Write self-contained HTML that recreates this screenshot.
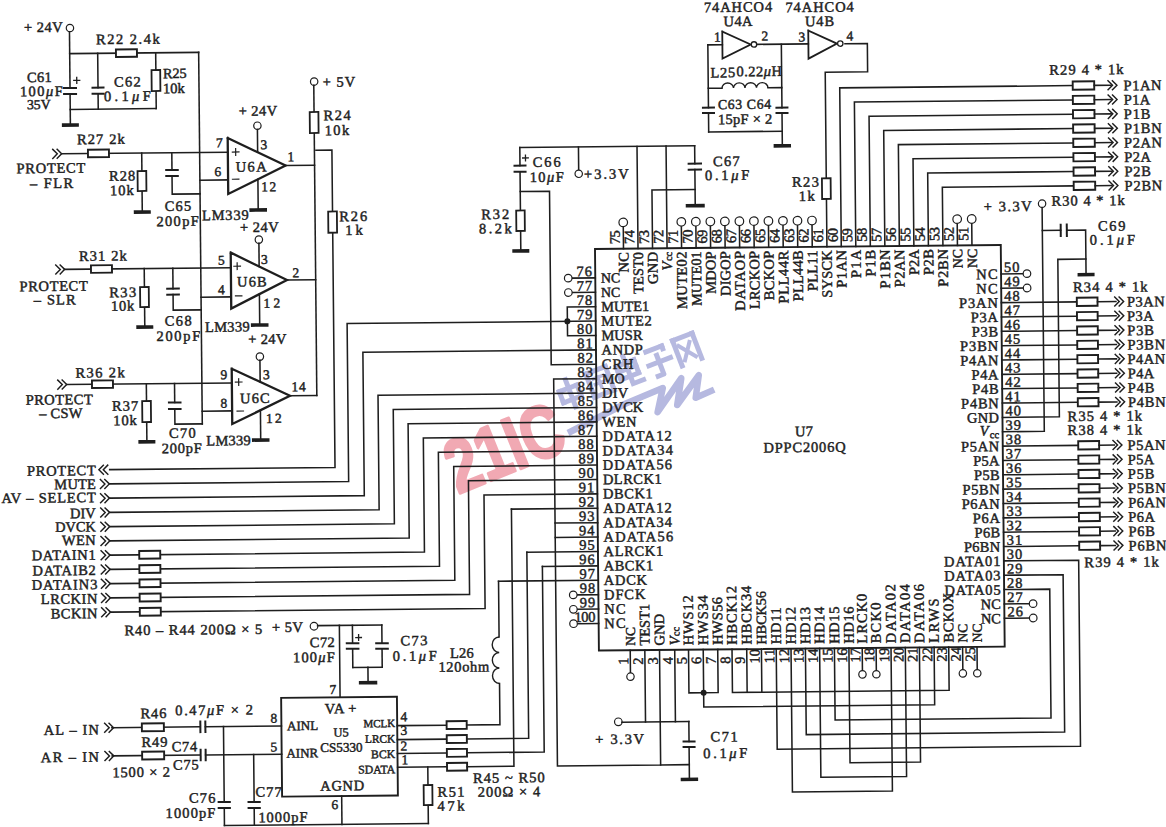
<!DOCTYPE html>
<html><head><meta charset="utf-8"><style>
html,body{margin:0;padding:0;background:#fff;}
svg{display:block;}
</style></head><body>
<svg width="1166" height="827" viewBox="0 0 1166 827">
<rect width="1166" height="827" fill="#fff"/>
<text transform="translate(458 494) rotate(-22)" font-family="Liberation Sans, sans-serif" font-weight="bold" font-size="75" fill="#f1a9b3" stroke="#f1a9b3" stroke-width="3" stroke-linejoin="round" textLength="121" lengthAdjust="spacingAndGlyphs">21IC</text>
<g transform="translate(553.5 383.7) rotate(-21)" fill="#b6b9e0"><rect x="0" y="7" width="5" height="17"/><rect x="0" y="7" width="24" height="5"/><rect x="19" y="7" width="5" height="17"/><rect x="0" y="19" width="24" height="5"/><rect x="10" y="-2" width="5" height="34"/><rect x="31" y="0" width="5" height="30"/><rect x="31" y="0" width="26" height="5"/><rect x="52" y="0" width="5" height="30"/><rect x="31" y="25" width="26" height="5"/><rect x="37" y="8" width="14" height="3.5"/><rect x="37" y="14" width="14" height="3.5"/><rect x="42" y="8" width="3.5" height="14"/><rect x="62" y="4" width="5" height="18"/><rect x="62" y="4" width="24" height="5"/><rect x="81" y="4" width="5" height="18"/><rect x="62" y="11" width="24" height="4"/><rect x="62" y="18" width="24" height="5"/><rect x="72" y="-3" width="5" height="30"/><rect x="72" y="26" width="16" height="5"/><rect x="95" y="1" width="22" height="5"/><rect x="112" y="1" width="5" height="8"/><rect x="104" y="8" width="5" height="24"/><rect x="93" y="15" width="28" height="5"/><rect x="98" y="28" width="10" height="5"/><rect x="124" y="0" width="5" height="32"/><rect x="124" y="0" width="26" height="5"/><rect x="145" y="0" width="5" height="32"/><path d="M129 8 L144 27 M143 8 L130 27" stroke="#b6b9e0" stroke-width="4" fill="none"/></g>
<path d="M568 433 L624.7 404 L662.8 388 L657.6 412.2 L681.3 378.2 L677.2 405 L698.8 375.1 L695.7 397.8 L714.2 389.6" fill="none" stroke="#b6b9e0" stroke-width="6.5" stroke-linejoin="round"/>
<g transform="rotate(-0.56 583 413.5)" fill="#1e1e1e" font-family="Liberation Serif, serif">
<rect x="596.6" y="249.1" width="405.8" height="401.6" fill="none" stroke="#1e1e1e" stroke-width="1.9"/>
<text x="602.2" y="282.8" font-size="13.89" textLength="19.3" lengthAdjust="spacing" stroke="#1e1e1e" stroke-width="0.45">NC</text>
<text x="593.4" y="276.2" font-size="14.5" textLength="15.5" lengthAdjust="spacing" text-anchor="end" stroke="#1e1e1e" stroke-width="0.45">76</text>
<text x="602.2" y="297.2" font-size="13.89" textLength="19.3" lengthAdjust="spacing" stroke="#1e1e1e" stroke-width="0.45">NC</text>
<text x="593.4" y="290.6" font-size="14.5" textLength="15.5" lengthAdjust="spacing" text-anchor="end" stroke="#1e1e1e" stroke-width="0.45">77</text>
<text x="602.2" y="311.6" font-size="14.4" textLength="48" lengthAdjust="spacing" stroke="#1e1e1e" stroke-width="0.45">MUTE1</text>
<text x="593.4" y="305" font-size="14.5" textLength="15.5" lengthAdjust="spacing" text-anchor="end" stroke="#1e1e1e" stroke-width="0.45">78</text>
<text x="602.2" y="326" font-size="14.5" textLength="50.3" lengthAdjust="spacing" stroke="#1e1e1e" stroke-width="0.45">MUTE2</text>
<text x="593.4" y="319.4" font-size="14.5" textLength="15.5" lengthAdjust="spacing" text-anchor="end" stroke="#1e1e1e" stroke-width="0.45">79</text>
<text x="602.2" y="340.4" font-size="14.5" textLength="41.1" lengthAdjust="spacing" stroke="#1e1e1e" stroke-width="0.45">MUSR</text>
<text x="593.4" y="333.8" font-size="14.5" textLength="15.5" lengthAdjust="spacing" text-anchor="end" stroke="#1e1e1e" stroke-width="0.45">80</text>
<text x="602.2" y="354.8" font-size="14.5" textLength="41.1" lengthAdjust="spacing" stroke="#1e1e1e" stroke-width="0.45">ANDP</text>
<text x="593.4" y="348.2" font-size="14.5" textLength="15.5" lengthAdjust="spacing" text-anchor="end" stroke="#1e1e1e" stroke-width="0.45">81</text>
<text x="602.2" y="369.2" font-size="14.5" textLength="31.8" lengthAdjust="spacing" stroke="#1e1e1e" stroke-width="0.45">CRH</text>
<text x="593.4" y="362.6" font-size="14.5" textLength="15.5" lengthAdjust="spacing" text-anchor="end" stroke="#1e1e1e" stroke-width="0.45">82</text>
<text x="602.2" y="383.6" font-size="14.15" textLength="22.8" lengthAdjust="spacing" stroke="#1e1e1e" stroke-width="0.45">MO</text>
<text x="593.4" y="377" font-size="14.5" textLength="15.5" lengthAdjust="spacing" text-anchor="end" stroke="#1e1e1e" stroke-width="0.45">83</text>
<text x="602.2" y="398" font-size="14.5" textLength="26.2" lengthAdjust="spacing" stroke="#1e1e1e" stroke-width="0.45">DIV</text>
<text x="593.4" y="391.4" font-size="14.5" textLength="15.5" lengthAdjust="spacing" text-anchor="end" stroke="#1e1e1e" stroke-width="0.45">84</text>
<text x="602.2" y="412.4" font-size="14.5" textLength="41.1" lengthAdjust="spacing" stroke="#1e1e1e" stroke-width="0.45">DVCK</text>
<text x="593.4" y="405.8" font-size="14.5" textLength="15.5" lengthAdjust="spacing" text-anchor="end" stroke="#1e1e1e" stroke-width="0.45">85</text>
<text x="602.2" y="426.8" font-size="14.5" textLength="34.2" lengthAdjust="spacing" stroke="#1e1e1e" stroke-width="0.45">WEN</text>
<text x="593.4" y="420.2" font-size="14.5" textLength="15.5" lengthAdjust="spacing" text-anchor="end" stroke="#1e1e1e" stroke-width="0.45">86</text>
<text x="602.2" y="441.2" font-size="14.5" textLength="69.3" lengthAdjust="spacing" stroke="#1e1e1e" stroke-width="0.45">DDATA12</text>
<text x="593.4" y="434.6" font-size="14.5" textLength="15.5" lengthAdjust="spacing" text-anchor="end" stroke="#1e1e1e" stroke-width="0.45">87</text>
<text x="602.2" y="455.6" font-size="14.5" textLength="70.4" lengthAdjust="spacing" stroke="#1e1e1e" stroke-width="0.45">DDATA34</text>
<text x="593.4" y="449" font-size="14.5" textLength="15.5" lengthAdjust="spacing" text-anchor="end" stroke="#1e1e1e" stroke-width="0.45">88</text>
<text x="602.2" y="470" font-size="14.5" textLength="69.3" lengthAdjust="spacing" stroke="#1e1e1e" stroke-width="0.45">DDATA56</text>
<text x="593.4" y="463.4" font-size="14.5" textLength="15.5" lengthAdjust="spacing" text-anchor="end" stroke="#1e1e1e" stroke-width="0.45">89</text>
<text x="602.2" y="484.4" font-size="14.5" textLength="58.8" lengthAdjust="spacing" stroke="#1e1e1e" stroke-width="0.45">DLRCK1</text>
<text x="593.4" y="477.8" font-size="14.5" textLength="15.5" lengthAdjust="spacing" text-anchor="end" stroke="#1e1e1e" stroke-width="0.45">90</text>
<text x="602.2" y="498.8" font-size="14.5" textLength="49.8" lengthAdjust="spacing" stroke="#1e1e1e" stroke-width="0.45">DBCK1</text>
<text x="593.4" y="492.2" font-size="14.5" textLength="15.5" lengthAdjust="spacing" text-anchor="end" stroke="#1e1e1e" stroke-width="0.45">91</text>
<text x="602.2" y="513.2" font-size="14.5" textLength="68.6" lengthAdjust="spacing" stroke="#1e1e1e" stroke-width="0.45">ADATA12</text>
<text x="593.4" y="506.6" font-size="14.5" textLength="15.5" lengthAdjust="spacing" text-anchor="end" stroke="#1e1e1e" stroke-width="0.45">92</text>
<text x="602.2" y="527.6" font-size="14.5" textLength="68.6" lengthAdjust="spacing" stroke="#1e1e1e" stroke-width="0.45">ADATA34</text>
<text x="593.4" y="521" font-size="14.5" textLength="15.5" lengthAdjust="spacing" text-anchor="end" stroke="#1e1e1e" stroke-width="0.45">93</text>
<text x="602.2" y="542" font-size="14.5" textLength="69.7" lengthAdjust="spacing" stroke="#1e1e1e" stroke-width="0.45">ADATA56</text>
<text x="593.4" y="535.4" font-size="14.5" textLength="15.5" lengthAdjust="spacing" text-anchor="end" stroke="#1e1e1e" stroke-width="0.45">94</text>
<text x="602.2" y="556.4" font-size="14.5" textLength="59.6" lengthAdjust="spacing" stroke="#1e1e1e" stroke-width="0.45">ALRCK1</text>
<text x="593.4" y="549.8" font-size="14.5" textLength="15.5" lengthAdjust="spacing" text-anchor="end" stroke="#1e1e1e" stroke-width="0.45">95</text>
<text x="602.2" y="570.8" font-size="14.5" textLength="49.4" lengthAdjust="spacing" stroke="#1e1e1e" stroke-width="0.45">ABCK1</text>
<text x="593.4" y="564.2" font-size="14.5" textLength="15.5" lengthAdjust="spacing" text-anchor="end" stroke="#1e1e1e" stroke-width="0.45">96</text>
<text x="602.2" y="585.2" font-size="14.5" textLength="43.2" lengthAdjust="spacing" stroke="#1e1e1e" stroke-width="0.45">ADCK</text>
<text x="593.4" y="578.6" font-size="14.5" textLength="15.5" lengthAdjust="spacing" text-anchor="end" stroke="#1e1e1e" stroke-width="0.45">97</text>
<text x="602.2" y="599.6" font-size="14.5" textLength="41.4" lengthAdjust="spacing" stroke="#1e1e1e" stroke-width="0.45">DFCK</text>
<text x="593.4" y="593" font-size="14.5" textLength="15.5" lengthAdjust="spacing" text-anchor="end" stroke="#1e1e1e" stroke-width="0.45">98</text>
<text x="602.2" y="614" font-size="14.5" textLength="21.5" lengthAdjust="spacing" stroke="#1e1e1e" stroke-width="0.45">NC</text>
<text x="593.4" y="607.4" font-size="14.5" textLength="15.5" lengthAdjust="spacing" text-anchor="end" stroke="#1e1e1e" stroke-width="0.45">99</text>
<text x="602.2" y="628.4" font-size="14.5" textLength="21.5" lengthAdjust="spacing" stroke="#1e1e1e" stroke-width="0.45">NC</text>
<text x="593.4" y="621.8" font-size="14.5" textLength="21" lengthAdjust="spacing" text-anchor="end" stroke="#1e1e1e" stroke-width="0.45">100</text>
<text transform="translate(629.9 252.6) rotate(-90)" font-size="14.5" textLength="20.4" lengthAdjust="spacing" text-anchor="end" stroke="#1e1e1e" stroke-width="0.45">NC</text>
<text transform="translate(621.5 244.6) rotate(-90)" font-size="14.5" textLength="14" lengthAdjust="spacing" stroke="#1e1e1e" stroke-width="0.45">75</text>
<text transform="translate(644.42 252.6) rotate(-90)" font-size="14.44" textLength="41.7" lengthAdjust="spacing" text-anchor="end" stroke="#1e1e1e" stroke-width="0.45">TEST0</text>
<text transform="translate(636.02 244.6) rotate(-90)" font-size="14.5" textLength="14" lengthAdjust="spacing" stroke="#1e1e1e" stroke-width="0.45">74</text>
<text transform="translate(658.94 252.6) rotate(-90)" font-size="14.5" textLength="32.2" lengthAdjust="spacing" text-anchor="end" stroke="#1e1e1e" stroke-width="0.45">GND</text>
<text transform="translate(650.54 244.6) rotate(-90)" font-size="14.5" textLength="14" lengthAdjust="spacing" stroke="#1e1e1e" stroke-width="0.45">73</text>
<text transform="translate(673.46 262.6) rotate(-90)" font-size="14.5" text-anchor="end" font-style="italic" stroke="#1e1e1e" stroke-width="0.45">V</text>
<text transform="translate(673.46 252.6) rotate(-90)" font-size="10.5" text-anchor="end" stroke="#1e1e1e" stroke-width="0.45">cc</text>
<text transform="translate(665.06 244.6) rotate(-90)" font-size="14.5" textLength="14" lengthAdjust="spacing" stroke="#1e1e1e" stroke-width="0.45">72</text>
<text transform="translate(687.98 252.6) rotate(-90)" font-size="14.5" textLength="57.4" lengthAdjust="spacing" text-anchor="end" stroke="#1e1e1e" stroke-width="0.45">MUTE02</text>
<text transform="translate(679.58 244.6) rotate(-90)" font-size="14.5" textLength="14" lengthAdjust="spacing" stroke="#1e1e1e" stroke-width="0.45">71</text>
<text transform="translate(702.5 252.6) rotate(-90)" font-size="14.17" textLength="54.3" lengthAdjust="spacing" text-anchor="end" stroke="#1e1e1e" stroke-width="0.45">MUTE01</text>
<text transform="translate(694.1 244.6) rotate(-90)" font-size="14.5" textLength="14" lengthAdjust="spacing" stroke="#1e1e1e" stroke-width="0.45">70</text>
<text transform="translate(717.02 252.6) rotate(-90)" font-size="14.5" textLength="42.5" lengthAdjust="spacing" text-anchor="end" stroke="#1e1e1e" stroke-width="0.45">MDOP</text>
<text transform="translate(708.62 244.6) rotate(-90)" font-size="14.5" textLength="14" lengthAdjust="spacing" stroke="#1e1e1e" stroke-width="0.45">69</text>
<text transform="translate(731.54 252.6) rotate(-90)" font-size="14.5" textLength="44.8" lengthAdjust="spacing" text-anchor="end" stroke="#1e1e1e" stroke-width="0.45">DIGOP</text>
<text transform="translate(723.14 244.6) rotate(-90)" font-size="14.5" textLength="14" lengthAdjust="spacing" stroke="#1e1e1e" stroke-width="0.45">68</text>
<text transform="translate(746.06 252.6) rotate(-90)" font-size="14.5" textLength="59.8" lengthAdjust="spacing" text-anchor="end" stroke="#1e1e1e" stroke-width="0.45">DATAOP</text>
<text transform="translate(737.66 244.6) rotate(-90)" font-size="14.5" textLength="14" lengthAdjust="spacing" stroke="#1e1e1e" stroke-width="0.45">67</text>
<text transform="translate(760.58 252.6) rotate(-90)" font-size="14.5" textLength="58.2" lengthAdjust="spacing" text-anchor="end" stroke="#1e1e1e" stroke-width="0.45">LRCKOP</text>
<text transform="translate(752.18 244.6) rotate(-90)" font-size="14.5" textLength="14" lengthAdjust="spacing" stroke="#1e1e1e" stroke-width="0.45">66</text>
<text transform="translate(775.1 252.6) rotate(-90)" font-size="14.5" textLength="49.5" lengthAdjust="spacing" text-anchor="end" stroke="#1e1e1e" stroke-width="0.45">BCKOP</text>
<text transform="translate(766.7 244.6) rotate(-90)" font-size="14.5" textLength="14" lengthAdjust="spacing" stroke="#1e1e1e" stroke-width="0.45">65</text>
<text transform="translate(789.62 252.6) rotate(-90)" font-size="14.5" textLength="52.8" lengthAdjust="spacing" text-anchor="end" stroke="#1e1e1e" stroke-width="0.45">PLL44R</text>
<text transform="translate(781.22 244.6) rotate(-90)" font-size="14.5" textLength="14" lengthAdjust="spacing" stroke="#1e1e1e" stroke-width="0.45">64</text>
<text transform="translate(804.14 252.6) rotate(-90)" font-size="14.5" textLength="50.8" lengthAdjust="spacing" text-anchor="end" stroke="#1e1e1e" stroke-width="0.45">PLL44B</text>
<text transform="translate(795.74 244.6) rotate(-90)" font-size="14.5" textLength="14" lengthAdjust="spacing" stroke="#1e1e1e" stroke-width="0.45">63</text>
<text transform="translate(818.66 252.6) rotate(-90)" font-size="14.5" textLength="40.8" lengthAdjust="spacing" text-anchor="end" stroke="#1e1e1e" stroke-width="0.45">PLL11</text>
<text transform="translate(810.26 244.6) rotate(-90)" font-size="14.5" textLength="14" lengthAdjust="spacing" stroke="#1e1e1e" stroke-width="0.45">62</text>
<text transform="translate(833.18 252.6) rotate(-90)" font-size="14.5" textLength="47.6" lengthAdjust="spacing" text-anchor="end" stroke="#1e1e1e" stroke-width="0.45">SYSCK</text>
<text transform="translate(824.78 244.6) rotate(-90)" font-size="14.5" textLength="14" lengthAdjust="spacing" stroke="#1e1e1e" stroke-width="0.45">61</text>
<text transform="translate(847.7 252.6) rotate(-90)" font-size="14.5" textLength="37.8" lengthAdjust="spacing" text-anchor="end" stroke="#1e1e1e" stroke-width="0.45">P1AN</text>
<text transform="translate(839.3 244.6) rotate(-90)" font-size="14.5" textLength="14" lengthAdjust="spacing" stroke="#1e1e1e" stroke-width="0.45">60</text>
<text transform="translate(862.22 252.6) rotate(-90)" font-size="14.5" textLength="28" lengthAdjust="spacing" text-anchor="end" stroke="#1e1e1e" stroke-width="0.45">P1A</text>
<text transform="translate(853.82 244.6) rotate(-90)" font-size="14.5" textLength="14" lengthAdjust="spacing" stroke="#1e1e1e" stroke-width="0.45">59</text>
<text transform="translate(876.74 252.6) rotate(-90)" font-size="14.5" textLength="26.8" lengthAdjust="spacing" text-anchor="end" stroke="#1e1e1e" stroke-width="0.45">P1B</text>
<text transform="translate(868.34 244.6) rotate(-90)" font-size="14.5" textLength="14" lengthAdjust="spacing" stroke="#1e1e1e" stroke-width="0.45">58</text>
<text transform="translate(891.26 252.6) rotate(-90)" font-size="14.5" textLength="38.8" lengthAdjust="spacing" text-anchor="end" stroke="#1e1e1e" stroke-width="0.45">P1BN</text>
<text transform="translate(882.86 244.6) rotate(-90)" font-size="14.5" textLength="14" lengthAdjust="spacing" stroke="#1e1e1e" stroke-width="0.45">57</text>
<text transform="translate(905.78 252.6) rotate(-90)" font-size="14.5" textLength="37.8" lengthAdjust="spacing" text-anchor="end" stroke="#1e1e1e" stroke-width="0.45">P2AN</text>
<text transform="translate(897.38 244.6) rotate(-90)" font-size="14.5" textLength="14" lengthAdjust="spacing" stroke="#1e1e1e" stroke-width="0.45">56</text>
<text transform="translate(920.3 252.6) rotate(-90)" font-size="14.5" textLength="25.8" lengthAdjust="spacing" text-anchor="end" stroke="#1e1e1e" stroke-width="0.45">P2A</text>
<text transform="translate(911.9 244.6) rotate(-90)" font-size="14.5" textLength="14" lengthAdjust="spacing" stroke="#1e1e1e" stroke-width="0.45">55</text>
<text transform="translate(934.82 252.6) rotate(-90)" font-size="14.5" textLength="25.8" lengthAdjust="spacing" text-anchor="end" stroke="#1e1e1e" stroke-width="0.45">P2B</text>
<text transform="translate(926.42 244.6) rotate(-90)" font-size="14.5" textLength="14" lengthAdjust="spacing" stroke="#1e1e1e" stroke-width="0.45">54</text>
<text transform="translate(949.34 252.6) rotate(-90)" font-size="14.5" textLength="37.8" lengthAdjust="spacing" text-anchor="end" stroke="#1e1e1e" stroke-width="0.45">P2BN</text>
<text transform="translate(940.94 244.6) rotate(-90)" font-size="14.5" textLength="14" lengthAdjust="spacing" stroke="#1e1e1e" stroke-width="0.45">53</text>
<text transform="translate(963.86 252.6) rotate(-90)" font-size="13.89" textLength="19.3" lengthAdjust="spacing" text-anchor="end" stroke="#1e1e1e" stroke-width="0.45">NC</text>
<text transform="translate(955.46 244.6) rotate(-90)" font-size="14.5" textLength="14" lengthAdjust="spacing" stroke="#1e1e1e" stroke-width="0.45">52</text>
<text transform="translate(978.38 252.6) rotate(-90)" font-size="13.89" textLength="19.3" lengthAdjust="spacing" text-anchor="end" stroke="#1e1e1e" stroke-width="0.45">NC</text>
<text transform="translate(969.98 244.6) rotate(-90)" font-size="14.5" textLength="14" lengthAdjust="spacing" stroke="#1e1e1e" stroke-width="0.45">51</text>
<text x="998.9" y="283" font-size="14.5" textLength="21.4" lengthAdjust="spacing" text-anchor="end" stroke="#1e1e1e" stroke-width="0.45">NC</text>
<text x="1005.4" y="276.2" font-size="14.5" textLength="15.5" lengthAdjust="spacing" stroke="#1e1e1e" stroke-width="0.45">50</text>
<text x="998.9" y="297.35" font-size="14.5" textLength="21.4" lengthAdjust="spacing" text-anchor="end" stroke="#1e1e1e" stroke-width="0.45">NC</text>
<text x="1005.4" y="290.55" font-size="14.5" textLength="15.5" lengthAdjust="spacing" stroke="#1e1e1e" stroke-width="0.45">49</text>
<text x="998.9" y="311.7" font-size="14.5" textLength="38.8" lengthAdjust="spacing" text-anchor="end" stroke="#1e1e1e" stroke-width="0.45">P3AN</text>
<text x="1005.4" y="304.9" font-size="14.5" textLength="15.5" lengthAdjust="spacing" stroke="#1e1e1e" stroke-width="0.45">48</text>
<text x="998.9" y="326.05" font-size="14.5" textLength="27.2" lengthAdjust="spacing" text-anchor="end" stroke="#1e1e1e" stroke-width="0.45">P3A</text>
<text x="1005.4" y="319.25" font-size="14.5" textLength="15.5" lengthAdjust="spacing" stroke="#1e1e1e" stroke-width="0.45">47</text>
<text x="998.9" y="340.4" font-size="14.5" textLength="26.5" lengthAdjust="spacing" text-anchor="end" stroke="#1e1e1e" stroke-width="0.45">P3B</text>
<text x="1005.4" y="333.6" font-size="14.5" textLength="15.5" lengthAdjust="spacing" stroke="#1e1e1e" stroke-width="0.45">46</text>
<text x="998.9" y="354.75" font-size="14.5" textLength="38.2" lengthAdjust="spacing" text-anchor="end" stroke="#1e1e1e" stroke-width="0.45">P3BN</text>
<text x="1005.4" y="347.95" font-size="14.5" textLength="15.5" lengthAdjust="spacing" stroke="#1e1e1e" stroke-width="0.45">45</text>
<text x="998.9" y="369.1" font-size="14.5" textLength="38.2" lengthAdjust="spacing" text-anchor="end" stroke="#1e1e1e" stroke-width="0.45">P4AN</text>
<text x="1005.4" y="362.3" font-size="14.5" textLength="15.5" lengthAdjust="spacing" stroke="#1e1e1e" stroke-width="0.45">44</text>
<text x="998.9" y="383.45" font-size="14.5" textLength="27.2" lengthAdjust="spacing" text-anchor="end" stroke="#1e1e1e" stroke-width="0.45">P4A</text>
<text x="1005.4" y="376.65" font-size="14.5" textLength="15.5" lengthAdjust="spacing" stroke="#1e1e1e" stroke-width="0.45">43</text>
<text x="998.9" y="397.8" font-size="14.5" textLength="26.5" lengthAdjust="spacing" text-anchor="end" stroke="#1e1e1e" stroke-width="0.45">P4B</text>
<text x="1005.4" y="391" font-size="14.5" textLength="15.5" lengthAdjust="spacing" stroke="#1e1e1e" stroke-width="0.45">42</text>
<text x="998.9" y="412.15" font-size="14.5" textLength="37.8" lengthAdjust="spacing" text-anchor="end" stroke="#1e1e1e" stroke-width="0.45">P4BN</text>
<text x="1005.4" y="405.35" font-size="14.5" textLength="15.5" lengthAdjust="spacing" stroke="#1e1e1e" stroke-width="0.45">41</text>
<text x="998.9" y="426.5" font-size="14.5" textLength="32.1" lengthAdjust="spacing" text-anchor="end" stroke="#1e1e1e" stroke-width="0.45">GND</text>
<text x="1005.4" y="419.7" font-size="14.5" textLength="15.5" lengthAdjust="spacing" stroke="#1e1e1e" stroke-width="0.45">40</text>
<text x="988.4" y="439.35" font-size="14.5" text-anchor="end" font-style="italic" stroke="#1e1e1e" stroke-width="0.45">V</text>
<text x="998.9" y="442.35" font-size="10.5" text-anchor="end" stroke="#1e1e1e" stroke-width="0.45">cc</text>
<text x="1005.4" y="434.05" font-size="14.5" textLength="15.5" lengthAdjust="spacing" stroke="#1e1e1e" stroke-width="0.45">39</text>
<text x="998.9" y="455.2" font-size="14.5" textLength="38.2" lengthAdjust="spacing" text-anchor="end" stroke="#1e1e1e" stroke-width="0.45">P5AN</text>
<text x="1005.4" y="448.4" font-size="14.5" textLength="15.5" lengthAdjust="spacing" stroke="#1e1e1e" stroke-width="0.45">38</text>
<text x="998.9" y="469.55" font-size="14.5" textLength="26.2" lengthAdjust="spacing" text-anchor="end" stroke="#1e1e1e" stroke-width="0.45">P5A</text>
<text x="1005.4" y="462.75" font-size="14.5" textLength="15.5" lengthAdjust="spacing" stroke="#1e1e1e" stroke-width="0.45">37</text>
<text x="998.9" y="483.9" font-size="14.5" textLength="25.5" lengthAdjust="spacing" text-anchor="end" stroke="#1e1e1e" stroke-width="0.45">P5B</text>
<text x="1005.4" y="477.1" font-size="14.5" textLength="15.5" lengthAdjust="spacing" stroke="#1e1e1e" stroke-width="0.45">36</text>
<text x="998.9" y="498.25" font-size="14.5" textLength="37.1" lengthAdjust="spacing" text-anchor="end" stroke="#1e1e1e" stroke-width="0.45">P5BN</text>
<text x="1005.4" y="491.45" font-size="14.5" textLength="15.5" lengthAdjust="spacing" stroke="#1e1e1e" stroke-width="0.45">35</text>
<text x="998.9" y="512.6" font-size="14.5" textLength="38.2" lengthAdjust="spacing" text-anchor="end" stroke="#1e1e1e" stroke-width="0.45">P6AN</text>
<text x="1005.4" y="505.8" font-size="14.5" textLength="15.5" lengthAdjust="spacing" stroke="#1e1e1e" stroke-width="0.45">34</text>
<text x="998.9" y="526.95" font-size="14.5" textLength="27.3" lengthAdjust="spacing" text-anchor="end" stroke="#1e1e1e" stroke-width="0.45">P6A</text>
<text x="1005.4" y="520.15" font-size="14.5" textLength="15.5" lengthAdjust="spacing" stroke="#1e1e1e" stroke-width="0.45">33</text>
<text x="998.9" y="541.3" font-size="14.5" textLength="25.5" lengthAdjust="spacing" text-anchor="end" stroke="#1e1e1e" stroke-width="0.45">P6B</text>
<text x="1005.4" y="534.5" font-size="14.5" textLength="15.5" lengthAdjust="spacing" stroke="#1e1e1e" stroke-width="0.45">32</text>
<text x="998.9" y="555.65" font-size="14.5" textLength="36.3" lengthAdjust="spacing" text-anchor="end" stroke="#1e1e1e" stroke-width="0.45">P6BN</text>
<text x="1005.4" y="548.85" font-size="14.5" textLength="15.5" lengthAdjust="spacing" stroke="#1e1e1e" stroke-width="0.45">31</text>
<text x="998.9" y="570" font-size="14.5" textLength="56.3" lengthAdjust="spacing" text-anchor="end" stroke="#1e1e1e" stroke-width="0.45">DATA01</text>
<text x="1005.4" y="563.2" font-size="14.5" textLength="15.5" lengthAdjust="spacing" stroke="#1e1e1e" stroke-width="0.45">30</text>
<text x="998.9" y="584.35" font-size="14.5" textLength="56.3" lengthAdjust="spacing" text-anchor="end" stroke="#1e1e1e" stroke-width="0.45">DATA03</text>
<text x="1005.4" y="577.55" font-size="14.5" textLength="15.5" lengthAdjust="spacing" stroke="#1e1e1e" stroke-width="0.45">29</text>
<text x="998.9" y="598.7" font-size="14.5" textLength="56.3" lengthAdjust="spacing" text-anchor="end" stroke="#1e1e1e" stroke-width="0.45">DATA05</text>
<text x="1005.4" y="591.9" font-size="14.5" textLength="15.5" lengthAdjust="spacing" stroke="#1e1e1e" stroke-width="0.45">28</text>
<text x="998.9" y="613.05" font-size="14.4" textLength="20" lengthAdjust="spacing" text-anchor="end" stroke="#1e1e1e" stroke-width="0.45">NC</text>
<text x="1005.4" y="606.25" font-size="14.5" textLength="15.5" lengthAdjust="spacing" stroke="#1e1e1e" stroke-width="0.45">27</text>
<text x="998.9" y="627.4" font-size="14.4" textLength="20" lengthAdjust="spacing" text-anchor="end" stroke="#1e1e1e" stroke-width="0.45">NC</text>
<text x="1005.4" y="620.6" font-size="14.5" textLength="15.5" lengthAdjust="spacing" stroke="#1e1e1e" stroke-width="0.45">26</text>
<text transform="translate(632.71 646.2) rotate(-90)" font-size="13.53" textLength="18.8" lengthAdjust="spacing" stroke="#1e1e1e" stroke-width="0.45">NC</text>
<text transform="translate(625.91 665.2) rotate(-90)" font-size="14.5" textLength="7.5" lengthAdjust="spacing" stroke="#1e1e1e" stroke-width="0.45">1</text>
<text transform="translate(647.31 646.2) rotate(-90)" font-size="14.47" textLength="41.8" lengthAdjust="spacing" stroke="#1e1e1e" stroke-width="0.45">TEST1</text>
<text transform="translate(640.51 665.2) rotate(-90)" font-size="14.5" textLength="7.5" lengthAdjust="spacing" stroke="#1e1e1e" stroke-width="0.45">2</text>
<text transform="translate(662.01 646.2) rotate(-90)" font-size="14.5" textLength="31.6" lengthAdjust="spacing" stroke="#1e1e1e" stroke-width="0.45">GND</text>
<text transform="translate(655.21 665.2) rotate(-90)" font-size="14.5" textLength="7.5" lengthAdjust="spacing" stroke="#1e1e1e" stroke-width="0.45">3</text>
<text transform="translate(677.21 646.2) rotate(-90)" font-size="14.5" font-style="italic" stroke="#1e1e1e" stroke-width="0.45">V</text>
<text transform="translate(677.21 637.2) rotate(-90)" font-size="10.5" stroke="#1e1e1e" stroke-width="0.45">cc</text>
<text transform="translate(670.41 665.2) rotate(-90)" font-size="14.5" textLength="7.5" lengthAdjust="spacing" stroke="#1e1e1e" stroke-width="0.45">4</text>
<text transform="translate(691.01 646.2) rotate(-90)" font-size="14.5" textLength="49.8" lengthAdjust="spacing" stroke="#1e1e1e" stroke-width="0.45">HWS12</text>
<text transform="translate(684.21 665.2) rotate(-90)" font-size="14.5" textLength="7.5" lengthAdjust="spacing" stroke="#1e1e1e" stroke-width="0.45">5</text>
<text transform="translate(705.71 646.2) rotate(-90)" font-size="14.5" textLength="49.8" lengthAdjust="spacing" stroke="#1e1e1e" stroke-width="0.45">HWS34</text>
<text transform="translate(698.91 665.2) rotate(-90)" font-size="14.5" textLength="7.5" lengthAdjust="spacing" stroke="#1e1e1e" stroke-width="0.45">6</text>
<text transform="translate(720.21 646.2) rotate(-90)" font-size="14.5" textLength="47.8" lengthAdjust="spacing" stroke="#1e1e1e" stroke-width="0.45">HWS56</text>
<text transform="translate(713.41 665.2) rotate(-90)" font-size="14.5" textLength="7.5" lengthAdjust="spacing" stroke="#1e1e1e" stroke-width="0.45">7</text>
<text transform="translate(734.51 646.2) rotate(-90)" font-size="14.5" textLength="58.8" lengthAdjust="spacing" stroke="#1e1e1e" stroke-width="0.45">HBCK12</text>
<text transform="translate(727.71 665.2) rotate(-90)" font-size="14.5" textLength="7.5" lengthAdjust="spacing" stroke="#1e1e1e" stroke-width="0.45">8</text>
<text transform="translate(749.21 646.2) rotate(-90)" font-size="14.5" textLength="58.8" lengthAdjust="spacing" stroke="#1e1e1e" stroke-width="0.45">HBCK34</text>
<text transform="translate(742.41 665.2) rotate(-90)" font-size="14.5" textLength="7.5" lengthAdjust="spacing" stroke="#1e1e1e" stroke-width="0.45">9</text>
<text transform="translate(763.91 646.2) rotate(-90)" font-size="14.13" textLength="53.4" lengthAdjust="spacing" stroke="#1e1e1e" stroke-width="0.45">HBCK56</text>
<text transform="translate(757.11 665.2) rotate(-90)" font-size="14.5" textLength="14.5" lengthAdjust="spacing" stroke="#1e1e1e" stroke-width="0.45">10</text>
<text transform="translate(778.71 646.2) rotate(-90)" font-size="14.5" textLength="37.1" lengthAdjust="spacing" stroke="#1e1e1e" stroke-width="0.45">HD11</text>
<text transform="translate(771.91 665.2) rotate(-90)" font-size="14.5" textLength="14.5" lengthAdjust="spacing" stroke="#1e1e1e" stroke-width="0.45">11</text>
<text transform="translate(793.51 646.2) rotate(-90)" font-size="14.5" textLength="37.1" lengthAdjust="spacing" stroke="#1e1e1e" stroke-width="0.45">HD12</text>
<text transform="translate(786.71 665.2) rotate(-90)" font-size="14.5" textLength="14.5" lengthAdjust="spacing" stroke="#1e1e1e" stroke-width="0.45">12</text>
<text transform="translate(807.91 646.2) rotate(-90)" font-size="14.5" textLength="37.1" lengthAdjust="spacing" stroke="#1e1e1e" stroke-width="0.45">HD13</text>
<text transform="translate(801.11 665.2) rotate(-90)" font-size="14.5" textLength="14.5" lengthAdjust="spacing" stroke="#1e1e1e" stroke-width="0.45">13</text>
<text transform="translate(822.11 646.2) rotate(-90)" font-size="14.5" textLength="37.1" lengthAdjust="spacing" stroke="#1e1e1e" stroke-width="0.45">HD14</text>
<text transform="translate(815.31 665.2) rotate(-90)" font-size="14.5" textLength="14.5" lengthAdjust="spacing" stroke="#1e1e1e" stroke-width="0.45">14</text>
<text transform="translate(836.91 646.2) rotate(-90)" font-size="14.5" textLength="37.1" lengthAdjust="spacing" stroke="#1e1e1e" stroke-width="0.45">HD15</text>
<text transform="translate(830.11 665.2) rotate(-90)" font-size="14.5" textLength="14.5" lengthAdjust="spacing" stroke="#1e1e1e" stroke-width="0.45">15</text>
<text transform="translate(851.41 646.2) rotate(-90)" font-size="14.5" textLength="37.1" lengthAdjust="spacing" stroke="#1e1e1e" stroke-width="0.45">HD16</text>
<text transform="translate(844.61 665.2) rotate(-90)" font-size="14.5" textLength="14.5" lengthAdjust="spacing" stroke="#1e1e1e" stroke-width="0.45">16</text>
<text transform="translate(864.71 646.2) rotate(-90)" font-size="14.5" textLength="49.8" lengthAdjust="spacing" stroke="#1e1e1e" stroke-width="0.45">LRCK0</text>
<text transform="translate(857.91 665.2) rotate(-90)" font-size="14.5" textLength="14.5" lengthAdjust="spacing" stroke="#1e1e1e" stroke-width="0.45">17</text>
<text transform="translate(878.61 646.2) rotate(-90)" font-size="14.5" textLength="40.8" lengthAdjust="spacing" stroke="#1e1e1e" stroke-width="0.45">BCK0</text>
<text transform="translate(871.81 665.2) rotate(-90)" font-size="14.5" textLength="14.5" lengthAdjust="spacing" stroke="#1e1e1e" stroke-width="0.45">18</text>
<text transform="translate(893.51 646.2) rotate(-90)" font-size="14.5" textLength="58.8" lengthAdjust="spacing" stroke="#1e1e1e" stroke-width="0.45">DATA02</text>
<text transform="translate(886.71 665.2) rotate(-90)" font-size="14.5" textLength="14.5" lengthAdjust="spacing" stroke="#1e1e1e" stroke-width="0.45">19</text>
<text transform="translate(907.81 646.2) rotate(-90)" font-size="14.5" textLength="58.8" lengthAdjust="spacing" stroke="#1e1e1e" stroke-width="0.45">DATA04</text>
<text transform="translate(901.01 665.2) rotate(-90)" font-size="14.5" textLength="14.5" lengthAdjust="spacing" stroke="#1e1e1e" stroke-width="0.45">20</text>
<text transform="translate(921.91 646.2) rotate(-90)" font-size="14.5" textLength="58.8" lengthAdjust="spacing" stroke="#1e1e1e" stroke-width="0.45">DATA06</text>
<text transform="translate(915.11 665.2) rotate(-90)" font-size="14.5" textLength="14.5" lengthAdjust="spacing" stroke="#1e1e1e" stroke-width="0.45">21</text>
<text transform="translate(936.61 646.2) rotate(-90)" font-size="14.5" textLength="44.3" lengthAdjust="spacing" stroke="#1e1e1e" stroke-width="0.45">LRWS</text>
<text transform="translate(929.81 665.2) rotate(-90)" font-size="14.5" textLength="14.5" lengthAdjust="spacing" stroke="#1e1e1e" stroke-width="0.45">22</text>
<text transform="translate(951.21 646.2) rotate(-90)" font-size="14.5" textLength="49.8" lengthAdjust="spacing" stroke="#1e1e1e" stroke-width="0.45">BCK0X</text>
<text transform="translate(944.41 665.2) rotate(-90)" font-size="14.5" textLength="14.5" lengthAdjust="spacing" stroke="#1e1e1e" stroke-width="0.45">23</text>
<text transform="translate(965.11 646.2) rotate(-90)" font-size="13.53" textLength="18.8" lengthAdjust="spacing" stroke="#1e1e1e" stroke-width="0.45">NC</text>
<text transform="translate(958.31 665.2) rotate(-90)" font-size="14.5" textLength="14.5" lengthAdjust="spacing" stroke="#1e1e1e" stroke-width="0.45">24</text>
<text transform="translate(979.51 646.2) rotate(-90)" font-size="13.53" textLength="18.8" lengthAdjust="spacing" stroke="#1e1e1e" stroke-width="0.45">NC</text>
<text transform="translate(972.71 665.2) rotate(-90)" font-size="14.5" textLength="14.5" lengthAdjust="spacing" stroke="#1e1e1e" stroke-width="0.45">25</text>
<text x="794.78" y="438.26" font-size="14.5" textLength="18" lengthAdjust="spacing" stroke="#1e1e1e" stroke-width="0.45">U7</text>
<text x="763.02" y="454.25" font-size="14.5" textLength="82.3" lengthAdjust="spacing" stroke="#1e1e1e" stroke-width="0.45">DPPC2006Q</text>
<path d="M625.1 227 L625.1 249.1" fill="none" stroke="#1e1e1e" stroke-width="1.55" stroke-linejoin="miter" stroke-linecap="square"/>
<circle cx="625.1" cy="222.8" r="4.3" fill="#fff" stroke="#1e1e1e" stroke-width="1.2"/>
<path d="M683.18 227 L683.18 249.1" fill="none" stroke="#1e1e1e" stroke-width="1.55" stroke-linejoin="miter" stroke-linecap="square"/>
<circle cx="683.18" cy="222.8" r="4.3" fill="#fff" stroke="#1e1e1e" stroke-width="1.2"/>
<path d="M697.7 227 L697.7 249.1" fill="none" stroke="#1e1e1e" stroke-width="1.55" stroke-linejoin="miter" stroke-linecap="square"/>
<circle cx="697.7" cy="222.8" r="4.3" fill="#fff" stroke="#1e1e1e" stroke-width="1.2"/>
<path d="M712.22 227 L712.22 249.1" fill="none" stroke="#1e1e1e" stroke-width="1.55" stroke-linejoin="miter" stroke-linecap="square"/>
<circle cx="712.22" cy="222.8" r="4.3" fill="#fff" stroke="#1e1e1e" stroke-width="1.2"/>
<path d="M726.74 227 L726.74 249.1" fill="none" stroke="#1e1e1e" stroke-width="1.55" stroke-linejoin="miter" stroke-linecap="square"/>
<circle cx="726.74" cy="222.8" r="4.3" fill="#fff" stroke="#1e1e1e" stroke-width="1.2"/>
<path d="M741.26 227 L741.26 249.1" fill="none" stroke="#1e1e1e" stroke-width="1.55" stroke-linejoin="miter" stroke-linecap="square"/>
<circle cx="741.26" cy="222.8" r="4.3" fill="#fff" stroke="#1e1e1e" stroke-width="1.2"/>
<path d="M755.78 227 L755.78 249.1" fill="none" stroke="#1e1e1e" stroke-width="1.55" stroke-linejoin="miter" stroke-linecap="square"/>
<circle cx="755.78" cy="222.8" r="4.3" fill="#fff" stroke="#1e1e1e" stroke-width="1.2"/>
<path d="M770.3 227 L770.3 249.1" fill="none" stroke="#1e1e1e" stroke-width="1.55" stroke-linejoin="miter" stroke-linecap="square"/>
<circle cx="770.3" cy="222.8" r="4.3" fill="#fff" stroke="#1e1e1e" stroke-width="1.2"/>
<path d="M784.82 227 L784.82 249.1" fill="none" stroke="#1e1e1e" stroke-width="1.55" stroke-linejoin="miter" stroke-linecap="square"/>
<circle cx="784.82" cy="222.8" r="4.3" fill="#fff" stroke="#1e1e1e" stroke-width="1.2"/>
<path d="M799.34 227 L799.34 249.1" fill="none" stroke="#1e1e1e" stroke-width="1.55" stroke-linejoin="miter" stroke-linecap="square"/>
<circle cx="799.34" cy="222.8" r="4.3" fill="#fff" stroke="#1e1e1e" stroke-width="1.2"/>
<path d="M813.86 227 L813.86 249.1" fill="none" stroke="#1e1e1e" stroke-width="1.55" stroke-linejoin="miter" stroke-linecap="square"/>
<circle cx="813.86" cy="222.8" r="4.3" fill="#fff" stroke="#1e1e1e" stroke-width="1.2"/>
<path d="M959.06 227 L959.06 249.1" fill="none" stroke="#1e1e1e" stroke-width="1.55" stroke-linejoin="miter" stroke-linecap="square"/>
<circle cx="959.06" cy="222.8" r="4.3" fill="#fff" stroke="#1e1e1e" stroke-width="1.2"/>
<path d="M973.58 227 L973.58 249.1" fill="none" stroke="#1e1e1e" stroke-width="1.55" stroke-linejoin="miter" stroke-linecap="square"/>
<circle cx="973.58" cy="222.8" r="4.3" fill="#fff" stroke="#1e1e1e" stroke-width="1.2"/>
<path d="M522.41 146.95 L697.26 146.95" fill="none" stroke="#1e1e1e" stroke-width="1.55" stroke-linejoin="miter" stroke-linecap="square"/>
<path d="M639.62 146.95 L639.62 249.1" fill="none" stroke="#1e1e1e" stroke-width="1.55" stroke-linejoin="miter" stroke-linecap="square"/>
<path d="M668.66 146.95 L668.66 249.1" fill="none" stroke="#1e1e1e" stroke-width="1.55" stroke-linejoin="miter" stroke-linecap="square"/>
<path d="M654.14 249.1 L654.14 190.64 L697.26 190.64" fill="none" stroke="#1e1e1e" stroke-width="1.55" stroke-linejoin="miter" stroke-linecap="square"/>
<path d="M697.26 146.95 L697.26 164.79" fill="none" stroke="#1e1e1e" stroke-width="1.55" stroke-linejoin="miter" stroke-linecap="square"/>
<rect x="690.06" y="163.79" width="14.4" height="2" fill="#1e1e1e"/>
<rect x="690.06" y="169.69" width="14.4" height="2" fill="#1e1e1e"/>
<path d="M697.26 170.69 L697.26 206.79" fill="none" stroke="#1e1e1e" stroke-width="1.55" stroke-linejoin="miter" stroke-linecap="square"/>
<rect x="687.76" y="204.99" width="19" height="3.6" fill="#1e1e1e"/>
<text x="715.4" y="167.46" font-size="14.5" textLength="26.8" lengthAdjust="spacing" stroke="#1e1e1e" stroke-width="0.45">C67</text>
<text x="707.26" y="181.38" font-size="14.5" textLength="44.4" lengthAdjust="spacing" stroke="#1e1e1e" stroke-width="0.45">0.1<tspan font-style="italic">μ</tspan>F</text>
<path d="M522.41 146.95 L522.41 164.99" fill="none" stroke="#1e1e1e" stroke-width="1.55" stroke-linejoin="miter" stroke-linecap="square"/>
<rect x="515.91" y="163.99" width="13" height="2" fill="#1e1e1e"/>
<rect x="515.91" y="170.09" width="13" height="2" fill="#1e1e1e"/>
<path d="M522.41 171.09 L522.41 250.39" fill="none" stroke="#1e1e1e" stroke-width="1.55" stroke-linejoin="miter" stroke-linecap="square"/>
<rect x="518.16" y="209.89" width="8.5" height="20.5" fill="#fff" stroke="#1e1e1e" stroke-width="1.8"/>
<rect x="513.91" y="248.59" width="17" height="3.6" fill="#1e1e1e"/>
<path d="M522.41 190.89 L551.69 190.89 L551.69 364.4 L596.6 364.4" fill="none" stroke="#1e1e1e" stroke-width="1.55" stroke-linejoin="miter" stroke-linecap="square"/>
<path d="M525.18 157.44 L530.78 157.44" fill="none" stroke="#1e1e1e" stroke-width="1.3" stroke-linejoin="miter" stroke-linecap="square"/>
<path d="M527.98 154.64 L527.98 160.24" fill="none" stroke="#1e1e1e" stroke-width="1.3" stroke-linejoin="miter" stroke-linecap="square"/>
<text x="535.09" y="166.41" font-size="14.5" textLength="28.1" lengthAdjust="spacing" stroke="#1e1e1e" stroke-width="0.45">C66</text>
<text x="531.95" y="181.48" font-size="14.5" textLength="34.1" lengthAdjust="spacing" stroke="#1e1e1e" stroke-width="0.45">10<tspan font-style="italic">μ</tspan>F</text>
<text x="483.18" y="218.21" font-size="14.5" textLength="28" lengthAdjust="spacing" stroke="#1e1e1e" stroke-width="0.45">R32</text>
<text x="480.75" y="232.39" font-size="14.5" textLength="32.8" lengthAdjust="spacing" stroke="#1e1e1e" stroke-width="0.45">8.2k</text>
<path d="M581.06 146.95 L581.06 170.26" fill="none" stroke="#1e1e1e" stroke-width="1.55" stroke-linejoin="miter" stroke-linecap="square"/>
<circle cx="581.06" cy="173.76" r="3.7" fill="#fff" stroke="#1e1e1e" stroke-width="1.2"/>
<text x="586.27" y="179.01" font-size="14.5" textLength="44.8" lengthAdjust="spacing" stroke="#1e1e1e" stroke-width="0.45">+3.3V</text>
<path d="M725.98 32.85 L754.28 46.12 L725.98 60.05 L725.98 32.85" fill="none" stroke="#1e1e1e" stroke-width="1.8" stroke-linejoin="miter" stroke-linecap="square"/>
<circle cx="757.58" cy="46.12" r="2.7" fill="#fff" stroke="#1e1e1e" stroke-width="1.3"/>
<path d="M811.98 32.68 L840.58 46.12 L811.98 60.88 L811.98 32.68" fill="none" stroke="#1e1e1e" stroke-width="1.8" stroke-linejoin="miter" stroke-linecap="square"/>
<circle cx="843.88" cy="46.12" r="2.7" fill="#fff" stroke="#1e1e1e" stroke-width="1.3"/>
<path d="M711.44 46.12 L725.98 46.12" fill="none" stroke="#1e1e1e" stroke-width="1.55" stroke-linejoin="miter" stroke-linecap="square"/>
<path d="M760.88 46.12 L811.98 46.12" fill="none" stroke="#1e1e1e" stroke-width="1.55" stroke-linejoin="miter" stroke-linecap="square"/>
<path d="M711.44 46.12 L711.44 108.91" fill="none" stroke="#1e1e1e" stroke-width="1.55" stroke-linejoin="miter" stroke-linecap="square"/>
<rect x="704.94" y="107.91" width="13" height="2" fill="#1e1e1e"/>
<rect x="704.94" y="113.21" width="13" height="2" fill="#1e1e1e"/>
<path d="M711.44 114.21 L711.44 133.17" fill="none" stroke="#1e1e1e" stroke-width="1.55" stroke-linejoin="miter" stroke-linecap="square"/>
<path d="M784.94 46.12 L784.94 109.63" fill="none" stroke="#1e1e1e" stroke-width="1.55" stroke-linejoin="miter" stroke-linecap="square"/>
<rect x="778.44" y="108.63" width="13" height="2" fill="#1e1e1e"/>
<rect x="778.44" y="113.93" width="13" height="2" fill="#1e1e1e"/>
<path d="M784.94 114.93 L784.94 147.73" fill="none" stroke="#1e1e1e" stroke-width="1.55" stroke-linejoin="miter" stroke-linecap="square"/>
<path d="M711.44 133.17 L784.94 133.17" fill="none" stroke="#1e1e1e" stroke-width="1.55" stroke-linejoin="miter" stroke-linecap="square"/>
<rect x="776.24" y="145.93" width="17.4" height="3.6" fill="#1e1e1e"/>
<path d="M711.44 89.57 L725.16 89.57" fill="none" stroke="#1e1e1e" stroke-width="1.55" stroke-linejoin="miter" stroke-linecap="square"/>
<path d="M771.16 89.57 L784.94 89.57" fill="none" stroke="#1e1e1e" stroke-width="1.55" stroke-linejoin="miter" stroke-linecap="square"/>
<path d="M725.16 89.57 a5.75 5.17 0 0 1 11.5 0 a5.75 5.17 0 0 1 11.5 0 a5.75 5.17 0 0 1 11.5 0 a5.75 5.17 0 0 1 11.5 0" fill="none" stroke="#1e1e1e" stroke-width="1.4"/>
<path d="M848.58 46.39 L870.95 46.39 L870.95 74.55 L828.55 74.55 L828.55 249.1" fill="none" stroke="#1e1e1e" stroke-width="1.55" stroke-linejoin="miter" stroke-linecap="square"/>
<rect x="824.2" y="180.66" width="8.7" height="20.7" fill="#fff" stroke="#1e1e1e" stroke-width="1.8"/>
<text x="707.89" y="13.37" font-size="14.5" textLength="68.2" lengthAdjust="spacing" stroke="#1e1e1e" stroke-width="0.45">74AHCO4</text>
<text x="727.26" y="27.56" font-size="14.5" textLength="29.1" lengthAdjust="spacing" stroke="#1e1e1e" stroke-width="0.45">U4A</text>
<text x="789.39" y="14.16" font-size="14.5" textLength="68.3" lengthAdjust="spacing" stroke="#1e1e1e" stroke-width="0.45">74AHCO4</text>
<text x="808.76" y="28.35" font-size="14.5" textLength="29.2" lengthAdjust="spacing" stroke="#1e1e1e" stroke-width="0.45">U4B</text>
<text x="717.61" y="42.87" font-size="13.5" textLength="6.3" lengthAdjust="spacing" stroke="#1e1e1e" stroke-width="0.45">1</text>
<text x="765.22" y="42.23" font-size="13.5" textLength="7.4" lengthAdjust="spacing" stroke="#1e1e1e" stroke-width="0.45">2</text>
<text x="802.21" y="43.69" font-size="13.5" textLength="7.4" lengthAdjust="spacing" stroke="#1e1e1e" stroke-width="0.45">3</text>
<text x="850.02" y="43.05" font-size="13.5" textLength="7.4" lengthAdjust="spacing" stroke="#1e1e1e" stroke-width="0.45">4</text>
<text x="713.76" y="78.74" font-size="14.5" textLength="24.7" lengthAdjust="spacing" stroke="#1e1e1e" stroke-width="0.45">L25</text>
<text x="739.87" y="77.89" font-size="14.5" textLength="45.4" lengthAdjust="spacing" stroke="#1e1e1e" stroke-width="0.45">0.22<tspan font-style="italic">μ</tspan>H</text>
<text x="720.95" y="110.51" font-size="13.85" textLength="53.1" lengthAdjust="spacing" stroke="#1e1e1e" stroke-width="0.45">C63  C64</text>
<text x="720.81" y="125.51" font-size="14.5" textLength="54.2" lengthAdjust="spacing" stroke="#1e1e1e" stroke-width="0.45">15pF × 2</text>
<text x="794.2" y="188.93" font-size="14.5" textLength="27.1" lengthAdjust="spacing" stroke="#1e1e1e" stroke-width="0.45">R23</text>
<text x="800.76" y="203.09" font-size="14.5" textLength="16.1" lengthAdjust="spacing" stroke="#1e1e1e" stroke-width="0.45">1k</text>
<path d="M842.9 249.1 L842.9 90.4 L1075.9 90.4" fill="none" stroke="#1e1e1e" stroke-width="1.55" stroke-linejoin="miter" stroke-linecap="square"/>
<rect x="1075.9" y="86.3" width="21.5" height="8.2" fill="#fff" stroke="#1e1e1e" stroke-width="1.9"/>
<path d="M1097.4 90.4 L1114 90.4" fill="none" stroke="#1e1e1e" stroke-width="1.55" stroke-linejoin="miter" stroke-linecap="square"/>
<path d="M1111.2 85.9 L1115.7 90.4 L1111.2 94.9" fill="none" stroke="#1e1e1e" stroke-width="1.45" stroke-linejoin="miter" stroke-linecap="square"/>
<path d="M1115.6 85.9 L1120.1 90.4 L1115.6 94.9" fill="none" stroke="#1e1e1e" stroke-width="1.45" stroke-linejoin="miter" stroke-linecap="square"/>
<text x="1126.7" y="95.6" font-size="14.5" textLength="37.8" lengthAdjust="spacing" stroke="#1e1e1e" stroke-width="0.45">P1AN</text>
<path d="M857.42 249.1 L857.42 104.73 L1075.9 104.73" fill="none" stroke="#1e1e1e" stroke-width="1.55" stroke-linejoin="miter" stroke-linecap="square"/>
<rect x="1075.9" y="100.63" width="21.5" height="8.2" fill="#fff" stroke="#1e1e1e" stroke-width="1.9"/>
<path d="M1097.4 104.73 L1114 104.73" fill="none" stroke="#1e1e1e" stroke-width="1.55" stroke-linejoin="miter" stroke-linecap="square"/>
<path d="M1111.2 100.23 L1115.7 104.73 L1111.2 109.23" fill="none" stroke="#1e1e1e" stroke-width="1.45" stroke-linejoin="miter" stroke-linecap="square"/>
<path d="M1115.6 100.23 L1120.1 104.73 L1115.6 109.23" fill="none" stroke="#1e1e1e" stroke-width="1.45" stroke-linejoin="miter" stroke-linecap="square"/>
<text x="1126.7" y="109.93" font-size="14.5" textLength="26.6" lengthAdjust="spacing" stroke="#1e1e1e" stroke-width="0.45">P1A</text>
<path d="M871.94 249.1 L871.94 119.06 L1075.9 119.06" fill="none" stroke="#1e1e1e" stroke-width="1.55" stroke-linejoin="miter" stroke-linecap="square"/>
<rect x="1075.9" y="114.96" width="21.5" height="8.2" fill="#fff" stroke="#1e1e1e" stroke-width="1.9"/>
<path d="M1097.4 119.06 L1114 119.06" fill="none" stroke="#1e1e1e" stroke-width="1.55" stroke-linejoin="miter" stroke-linecap="square"/>
<path d="M1111.2 114.56 L1115.7 119.06 L1111.2 123.56" fill="none" stroke="#1e1e1e" stroke-width="1.45" stroke-linejoin="miter" stroke-linecap="square"/>
<path d="M1115.6 114.56 L1120.1 119.06 L1115.6 123.56" fill="none" stroke="#1e1e1e" stroke-width="1.45" stroke-linejoin="miter" stroke-linecap="square"/>
<text x="1126.7" y="124.26" font-size="14.5" textLength="26.6" lengthAdjust="spacing" stroke="#1e1e1e" stroke-width="0.45">P1B</text>
<path d="M886.46 249.1 L886.46 133.39 L1075.9 133.39" fill="none" stroke="#1e1e1e" stroke-width="1.55" stroke-linejoin="miter" stroke-linecap="square"/>
<rect x="1075.9" y="129.29" width="21.5" height="8.2" fill="#fff" stroke="#1e1e1e" stroke-width="1.9"/>
<path d="M1097.4 133.39 L1114 133.39" fill="none" stroke="#1e1e1e" stroke-width="1.55" stroke-linejoin="miter" stroke-linecap="square"/>
<path d="M1111.2 128.89 L1115.7 133.39 L1111.2 137.89" fill="none" stroke="#1e1e1e" stroke-width="1.45" stroke-linejoin="miter" stroke-linecap="square"/>
<path d="M1115.6 128.89 L1120.1 133.39 L1115.6 137.89" fill="none" stroke="#1e1e1e" stroke-width="1.45" stroke-linejoin="miter" stroke-linecap="square"/>
<text x="1126.7" y="138.59" font-size="14.5" textLength="37.8" lengthAdjust="spacing" stroke="#1e1e1e" stroke-width="0.45">P1BN</text>
<path d="M900.98 249.1 L900.98 147.72 L1075.9 147.72" fill="none" stroke="#1e1e1e" stroke-width="1.55" stroke-linejoin="miter" stroke-linecap="square"/>
<rect x="1075.9" y="143.62" width="21.5" height="8.2" fill="#fff" stroke="#1e1e1e" stroke-width="1.9"/>
<path d="M1097.4 147.72 L1114 147.72" fill="none" stroke="#1e1e1e" stroke-width="1.55" stroke-linejoin="miter" stroke-linecap="square"/>
<path d="M1111.2 143.22 L1115.7 147.72 L1111.2 152.22" fill="none" stroke="#1e1e1e" stroke-width="1.45" stroke-linejoin="miter" stroke-linecap="square"/>
<path d="M1115.6 143.22 L1120.1 147.72 L1115.6 152.22" fill="none" stroke="#1e1e1e" stroke-width="1.45" stroke-linejoin="miter" stroke-linecap="square"/>
<text x="1126.7" y="152.92" font-size="14.5" textLength="37.8" lengthAdjust="spacing" stroke="#1e1e1e" stroke-width="0.45">P2AN</text>
<path d="M915.5 249.1 L915.5 162.05 L1075.9 162.05" fill="none" stroke="#1e1e1e" stroke-width="1.55" stroke-linejoin="miter" stroke-linecap="square"/>
<rect x="1075.9" y="157.95" width="21.5" height="8.2" fill="#fff" stroke="#1e1e1e" stroke-width="1.9"/>
<path d="M1097.4 162.05 L1114 162.05" fill="none" stroke="#1e1e1e" stroke-width="1.55" stroke-linejoin="miter" stroke-linecap="square"/>
<path d="M1111.2 157.55 L1115.7 162.05 L1111.2 166.55" fill="none" stroke="#1e1e1e" stroke-width="1.45" stroke-linejoin="miter" stroke-linecap="square"/>
<path d="M1115.6 157.55 L1120.1 162.05 L1115.6 166.55" fill="none" stroke="#1e1e1e" stroke-width="1.45" stroke-linejoin="miter" stroke-linecap="square"/>
<text x="1126.7" y="167.25" font-size="14.5" textLength="26.6" lengthAdjust="spacing" stroke="#1e1e1e" stroke-width="0.45">P2A</text>
<path d="M930.02 249.1 L930.02 176.38 L1075.9 176.38" fill="none" stroke="#1e1e1e" stroke-width="1.55" stroke-linejoin="miter" stroke-linecap="square"/>
<rect x="1075.9" y="172.28" width="21.5" height="8.2" fill="#fff" stroke="#1e1e1e" stroke-width="1.9"/>
<path d="M1097.4 176.38 L1114 176.38" fill="none" stroke="#1e1e1e" stroke-width="1.55" stroke-linejoin="miter" stroke-linecap="square"/>
<path d="M1111.2 171.88 L1115.7 176.38 L1111.2 180.88" fill="none" stroke="#1e1e1e" stroke-width="1.45" stroke-linejoin="miter" stroke-linecap="square"/>
<path d="M1115.6 171.88 L1120.1 176.38 L1115.6 180.88" fill="none" stroke="#1e1e1e" stroke-width="1.45" stroke-linejoin="miter" stroke-linecap="square"/>
<text x="1126.7" y="181.58" font-size="14.5" textLength="26.6" lengthAdjust="spacing" stroke="#1e1e1e" stroke-width="0.45">P2B</text>
<path d="M944.54 249.1 L944.54 190.71 L1075.9 190.71" fill="none" stroke="#1e1e1e" stroke-width="1.55" stroke-linejoin="miter" stroke-linecap="square"/>
<rect x="1075.9" y="186.61" width="21.5" height="8.2" fill="#fff" stroke="#1e1e1e" stroke-width="1.9"/>
<path d="M1097.4 190.71 L1114 190.71" fill="none" stroke="#1e1e1e" stroke-width="1.55" stroke-linejoin="miter" stroke-linecap="square"/>
<path d="M1111.2 186.21 L1115.7 190.71 L1111.2 195.21" fill="none" stroke="#1e1e1e" stroke-width="1.45" stroke-linejoin="miter" stroke-linecap="square"/>
<path d="M1115.6 186.21 L1120.1 190.71 L1115.6 195.21" fill="none" stroke="#1e1e1e" stroke-width="1.45" stroke-linejoin="miter" stroke-linecap="square"/>
<text x="1126.7" y="195.91" font-size="14.5" textLength="37.8" lengthAdjust="spacing" stroke="#1e1e1e" stroke-width="0.45">P2BN</text>
<text x="1052.59" y="79.32" font-size="14.5" textLength="74.3" lengthAdjust="spacing" stroke="#1e1e1e" stroke-width="0.45">R29  4 * 1k</text>
<path d="M1002.4 278 L1024.5 278" fill="none" stroke="#1e1e1e" stroke-width="1.55" stroke-linejoin="miter" stroke-linecap="square"/>
<circle cx="1028.3" cy="278" r="3.8" fill="#fff" stroke="#1e1e1e" stroke-width="1.2"/>
<path d="M1002.4 292.35 L1024.5 292.35" fill="none" stroke="#1e1e1e" stroke-width="1.55" stroke-linejoin="miter" stroke-linecap="square"/>
<circle cx="1028.3" cy="292.35" r="3.8" fill="#fff" stroke="#1e1e1e" stroke-width="1.2"/>
<path d="M1002.4 608.05 L1027.5 608.05" fill="none" stroke="#1e1e1e" stroke-width="1.55" stroke-linejoin="miter" stroke-linecap="square"/>
<circle cx="1031.2" cy="608.05" r="3.8" fill="#fff" stroke="#1e1e1e" stroke-width="1.2"/>
<path d="M1002.4 622.4 L1027.5 622.4" fill="none" stroke="#1e1e1e" stroke-width="1.55" stroke-linejoin="miter" stroke-linecap="square"/>
<circle cx="1031.2" cy="622.4" r="3.8" fill="#fff" stroke="#1e1e1e" stroke-width="1.2"/>
<path d="M1002.4 306.7 L1077.9 306.7" fill="none" stroke="#1e1e1e" stroke-width="1.55" stroke-linejoin="miter" stroke-linecap="square"/>
<rect x="1077.9" y="302.6" width="20.7" height="8.2" fill="#fff" stroke="#1e1e1e" stroke-width="1.9"/>
<path d="M1098.6 306.7 L1117 306.7" fill="none" stroke="#1e1e1e" stroke-width="1.55" stroke-linejoin="miter" stroke-linecap="square"/>
<path d="M1115.8 302.2 L1120.3 306.7 L1115.8 311.2" fill="none" stroke="#1e1e1e" stroke-width="1.45" stroke-linejoin="miter" stroke-linecap="square"/>
<path d="M1120.2 302.2 L1124.7 306.7 L1120.2 311.2" fill="none" stroke="#1e1e1e" stroke-width="1.45" stroke-linejoin="miter" stroke-linecap="square"/>
<text x="1128" y="311.9" font-size="14.5" textLength="37.8" lengthAdjust="spacing" stroke="#1e1e1e" stroke-width="0.45">P3AN</text>
<path d="M1002.4 321.05 L1077.9 321.05" fill="none" stroke="#1e1e1e" stroke-width="1.55" stroke-linejoin="miter" stroke-linecap="square"/>
<rect x="1077.9" y="316.95" width="20.7" height="8.2" fill="#fff" stroke="#1e1e1e" stroke-width="1.9"/>
<path d="M1098.6 321.05 L1117 321.05" fill="none" stroke="#1e1e1e" stroke-width="1.55" stroke-linejoin="miter" stroke-linecap="square"/>
<path d="M1115.8 316.55 L1120.3 321.05 L1115.8 325.55" fill="none" stroke="#1e1e1e" stroke-width="1.45" stroke-linejoin="miter" stroke-linecap="square"/>
<path d="M1120.2 316.55 L1124.7 321.05 L1120.2 325.55" fill="none" stroke="#1e1e1e" stroke-width="1.45" stroke-linejoin="miter" stroke-linecap="square"/>
<text x="1128" y="326.25" font-size="14.5" textLength="26.6" lengthAdjust="spacing" stroke="#1e1e1e" stroke-width="0.45">P3A</text>
<path d="M1002.4 335.4 L1077.9 335.4" fill="none" stroke="#1e1e1e" stroke-width="1.55" stroke-linejoin="miter" stroke-linecap="square"/>
<rect x="1077.9" y="331.3" width="20.7" height="8.2" fill="#fff" stroke="#1e1e1e" stroke-width="1.9"/>
<path d="M1098.6 335.4 L1117 335.4" fill="none" stroke="#1e1e1e" stroke-width="1.55" stroke-linejoin="miter" stroke-linecap="square"/>
<path d="M1115.8 330.9 L1120.3 335.4 L1115.8 339.9" fill="none" stroke="#1e1e1e" stroke-width="1.45" stroke-linejoin="miter" stroke-linecap="square"/>
<path d="M1120.2 330.9 L1124.7 335.4 L1120.2 339.9" fill="none" stroke="#1e1e1e" stroke-width="1.45" stroke-linejoin="miter" stroke-linecap="square"/>
<text x="1128" y="340.6" font-size="14.5" textLength="26.6" lengthAdjust="spacing" stroke="#1e1e1e" stroke-width="0.45">P3B</text>
<path d="M1002.4 349.75 L1077.9 349.75" fill="none" stroke="#1e1e1e" stroke-width="1.55" stroke-linejoin="miter" stroke-linecap="square"/>
<rect x="1077.9" y="345.65" width="20.7" height="8.2" fill="#fff" stroke="#1e1e1e" stroke-width="1.9"/>
<path d="M1098.6 349.75 L1117 349.75" fill="none" stroke="#1e1e1e" stroke-width="1.55" stroke-linejoin="miter" stroke-linecap="square"/>
<path d="M1115.8 345.25 L1120.3 349.75 L1115.8 354.25" fill="none" stroke="#1e1e1e" stroke-width="1.45" stroke-linejoin="miter" stroke-linecap="square"/>
<path d="M1120.2 345.25 L1124.7 349.75 L1120.2 354.25" fill="none" stroke="#1e1e1e" stroke-width="1.45" stroke-linejoin="miter" stroke-linecap="square"/>
<text x="1128" y="354.95" font-size="14.5" textLength="37.8" lengthAdjust="spacing" stroke="#1e1e1e" stroke-width="0.45">P3BN</text>
<path d="M1002.4 364.1 L1077.9 364.1" fill="none" stroke="#1e1e1e" stroke-width="1.55" stroke-linejoin="miter" stroke-linecap="square"/>
<rect x="1077.9" y="360" width="20.7" height="8.2" fill="#fff" stroke="#1e1e1e" stroke-width="1.9"/>
<path d="M1098.6 364.1 L1117 364.1" fill="none" stroke="#1e1e1e" stroke-width="1.55" stroke-linejoin="miter" stroke-linecap="square"/>
<path d="M1115.8 359.6 L1120.3 364.1 L1115.8 368.6" fill="none" stroke="#1e1e1e" stroke-width="1.45" stroke-linejoin="miter" stroke-linecap="square"/>
<path d="M1120.2 359.6 L1124.7 364.1 L1120.2 368.6" fill="none" stroke="#1e1e1e" stroke-width="1.45" stroke-linejoin="miter" stroke-linecap="square"/>
<text x="1128" y="369.3" font-size="14.5" textLength="37.8" lengthAdjust="spacing" stroke="#1e1e1e" stroke-width="0.45">P4AN</text>
<path d="M1002.4 378.45 L1077.9 378.45" fill="none" stroke="#1e1e1e" stroke-width="1.55" stroke-linejoin="miter" stroke-linecap="square"/>
<rect x="1077.9" y="374.35" width="20.7" height="8.2" fill="#fff" stroke="#1e1e1e" stroke-width="1.9"/>
<path d="M1098.6 378.45 L1117 378.45" fill="none" stroke="#1e1e1e" stroke-width="1.55" stroke-linejoin="miter" stroke-linecap="square"/>
<path d="M1115.8 373.95 L1120.3 378.45 L1115.8 382.95" fill="none" stroke="#1e1e1e" stroke-width="1.45" stroke-linejoin="miter" stroke-linecap="square"/>
<path d="M1120.2 373.95 L1124.7 378.45 L1120.2 382.95" fill="none" stroke="#1e1e1e" stroke-width="1.45" stroke-linejoin="miter" stroke-linecap="square"/>
<text x="1128" y="383.65" font-size="14.5" textLength="26.6" lengthAdjust="spacing" stroke="#1e1e1e" stroke-width="0.45">P4A</text>
<path d="M1002.4 392.8 L1077.9 392.8" fill="none" stroke="#1e1e1e" stroke-width="1.55" stroke-linejoin="miter" stroke-linecap="square"/>
<rect x="1077.9" y="388.7" width="20.7" height="8.2" fill="#fff" stroke="#1e1e1e" stroke-width="1.9"/>
<path d="M1098.6 392.8 L1117 392.8" fill="none" stroke="#1e1e1e" stroke-width="1.55" stroke-linejoin="miter" stroke-linecap="square"/>
<path d="M1115.8 388.3 L1120.3 392.8 L1115.8 397.3" fill="none" stroke="#1e1e1e" stroke-width="1.45" stroke-linejoin="miter" stroke-linecap="square"/>
<path d="M1120.2 388.3 L1124.7 392.8 L1120.2 397.3" fill="none" stroke="#1e1e1e" stroke-width="1.45" stroke-linejoin="miter" stroke-linecap="square"/>
<text x="1128" y="398" font-size="14.5" textLength="26.6" lengthAdjust="spacing" stroke="#1e1e1e" stroke-width="0.45">P4B</text>
<path d="M1002.4 407.15 L1077.9 407.15" fill="none" stroke="#1e1e1e" stroke-width="1.55" stroke-linejoin="miter" stroke-linecap="square"/>
<rect x="1077.9" y="403.05" width="20.7" height="8.2" fill="#fff" stroke="#1e1e1e" stroke-width="1.9"/>
<path d="M1098.6 407.15 L1117 407.15" fill="none" stroke="#1e1e1e" stroke-width="1.55" stroke-linejoin="miter" stroke-linecap="square"/>
<path d="M1115.8 402.65 L1120.3 407.15 L1115.8 411.65" fill="none" stroke="#1e1e1e" stroke-width="1.45" stroke-linejoin="miter" stroke-linecap="square"/>
<path d="M1120.2 402.65 L1124.7 407.15 L1120.2 411.65" fill="none" stroke="#1e1e1e" stroke-width="1.45" stroke-linejoin="miter" stroke-linecap="square"/>
<text x="1128" y="412.35" font-size="14.5" textLength="37.8" lengthAdjust="spacing" stroke="#1e1e1e" stroke-width="0.45">P4BN</text>
<text x="1074.18" y="296.85" font-size="14.5" textLength="74.6" lengthAdjust="spacing" stroke="#1e1e1e" stroke-width="0.45">R34  4 * 1k</text>
<path d="M1002.4 450.2 L1077.9 450.2" fill="none" stroke="#1e1e1e" stroke-width="1.55" stroke-linejoin="miter" stroke-linecap="square"/>
<rect x="1077.9" y="446.1" width="20.9" height="8.2" fill="#fff" stroke="#1e1e1e" stroke-width="1.9"/>
<path d="M1098.8 450.2 L1114 450.2" fill="none" stroke="#1e1e1e" stroke-width="1.55" stroke-linejoin="miter" stroke-linecap="square"/>
<path d="M1112.7 445.7 L1117.2 450.2 L1112.7 454.7" fill="none" stroke="#1e1e1e" stroke-width="1.45" stroke-linejoin="miter" stroke-linecap="square"/>
<path d="M1117.1 445.7 L1121.6 450.2 L1117.1 454.7" fill="none" stroke="#1e1e1e" stroke-width="1.45" stroke-linejoin="miter" stroke-linecap="square"/>
<text x="1127.2" y="455.4" font-size="14.5" textLength="37.8" lengthAdjust="spacing" stroke="#1e1e1e" stroke-width="0.45">P5AN</text>
<path d="M1002.4 464.55 L1077.9 464.55" fill="none" stroke="#1e1e1e" stroke-width="1.55" stroke-linejoin="miter" stroke-linecap="square"/>
<rect x="1077.9" y="460.45" width="20.9" height="8.2" fill="#fff" stroke="#1e1e1e" stroke-width="1.9"/>
<path d="M1098.8 464.55 L1114 464.55" fill="none" stroke="#1e1e1e" stroke-width="1.55" stroke-linejoin="miter" stroke-linecap="square"/>
<path d="M1112.7 460.05 L1117.2 464.55 L1112.7 469.05" fill="none" stroke="#1e1e1e" stroke-width="1.45" stroke-linejoin="miter" stroke-linecap="square"/>
<path d="M1117.1 460.05 L1121.6 464.55 L1117.1 469.05" fill="none" stroke="#1e1e1e" stroke-width="1.45" stroke-linejoin="miter" stroke-linecap="square"/>
<text x="1127.2" y="469.75" font-size="14.5" textLength="26.6" lengthAdjust="spacing" stroke="#1e1e1e" stroke-width="0.45">P5A</text>
<path d="M1002.4 478.9 L1077.9 478.9" fill="none" stroke="#1e1e1e" stroke-width="1.55" stroke-linejoin="miter" stroke-linecap="square"/>
<rect x="1077.9" y="474.8" width="20.9" height="8.2" fill="#fff" stroke="#1e1e1e" stroke-width="1.9"/>
<path d="M1098.8 478.9 L1114 478.9" fill="none" stroke="#1e1e1e" stroke-width="1.55" stroke-linejoin="miter" stroke-linecap="square"/>
<path d="M1112.7 474.4 L1117.2 478.9 L1112.7 483.4" fill="none" stroke="#1e1e1e" stroke-width="1.45" stroke-linejoin="miter" stroke-linecap="square"/>
<path d="M1117.1 474.4 L1121.6 478.9 L1117.1 483.4" fill="none" stroke="#1e1e1e" stroke-width="1.45" stroke-linejoin="miter" stroke-linecap="square"/>
<text x="1127.2" y="484.1" font-size="14.5" textLength="26.6" lengthAdjust="spacing" stroke="#1e1e1e" stroke-width="0.45">P5B</text>
<path d="M1002.4 493.25 L1077.9 493.25" fill="none" stroke="#1e1e1e" stroke-width="1.55" stroke-linejoin="miter" stroke-linecap="square"/>
<rect x="1077.9" y="489.15" width="20.9" height="8.2" fill="#fff" stroke="#1e1e1e" stroke-width="1.9"/>
<path d="M1098.8 493.25 L1114 493.25" fill="none" stroke="#1e1e1e" stroke-width="1.55" stroke-linejoin="miter" stroke-linecap="square"/>
<path d="M1112.7 488.75 L1117.2 493.25 L1112.7 497.75" fill="none" stroke="#1e1e1e" stroke-width="1.45" stroke-linejoin="miter" stroke-linecap="square"/>
<path d="M1117.1 488.75 L1121.6 493.25 L1117.1 497.75" fill="none" stroke="#1e1e1e" stroke-width="1.45" stroke-linejoin="miter" stroke-linecap="square"/>
<text x="1127.2" y="498.45" font-size="14.5" textLength="37.8" lengthAdjust="spacing" stroke="#1e1e1e" stroke-width="0.45">P5BN</text>
<path d="M1002.4 507.6 L1077.9 507.6" fill="none" stroke="#1e1e1e" stroke-width="1.55" stroke-linejoin="miter" stroke-linecap="square"/>
<rect x="1077.9" y="503.5" width="20.9" height="8.2" fill="#fff" stroke="#1e1e1e" stroke-width="1.9"/>
<path d="M1098.8 507.6 L1114 507.6" fill="none" stroke="#1e1e1e" stroke-width="1.55" stroke-linejoin="miter" stroke-linecap="square"/>
<path d="M1112.7 503.1 L1117.2 507.6 L1112.7 512.1" fill="none" stroke="#1e1e1e" stroke-width="1.45" stroke-linejoin="miter" stroke-linecap="square"/>
<path d="M1117.1 503.1 L1121.6 507.6 L1117.1 512.1" fill="none" stroke="#1e1e1e" stroke-width="1.45" stroke-linejoin="miter" stroke-linecap="square"/>
<text x="1127.2" y="512.8" font-size="14.5" textLength="37.8" lengthAdjust="spacing" stroke="#1e1e1e" stroke-width="0.45">P6AN</text>
<path d="M1002.4 521.95 L1077.9 521.95" fill="none" stroke="#1e1e1e" stroke-width="1.55" stroke-linejoin="miter" stroke-linecap="square"/>
<rect x="1077.9" y="517.85" width="20.9" height="8.2" fill="#fff" stroke="#1e1e1e" stroke-width="1.9"/>
<path d="M1098.8 521.95 L1114 521.95" fill="none" stroke="#1e1e1e" stroke-width="1.55" stroke-linejoin="miter" stroke-linecap="square"/>
<path d="M1112.7 517.45 L1117.2 521.95 L1112.7 526.45" fill="none" stroke="#1e1e1e" stroke-width="1.45" stroke-linejoin="miter" stroke-linecap="square"/>
<path d="M1117.1 517.45 L1121.6 521.95 L1117.1 526.45" fill="none" stroke="#1e1e1e" stroke-width="1.45" stroke-linejoin="miter" stroke-linecap="square"/>
<text x="1127.2" y="527.15" font-size="14.5" textLength="26.6" lengthAdjust="spacing" stroke="#1e1e1e" stroke-width="0.45">P6A</text>
<path d="M1002.4 536.3 L1077.9 536.3" fill="none" stroke="#1e1e1e" stroke-width="1.55" stroke-linejoin="miter" stroke-linecap="square"/>
<rect x="1077.9" y="532.2" width="20.9" height="8.2" fill="#fff" stroke="#1e1e1e" stroke-width="1.9"/>
<path d="M1098.8 536.3 L1114 536.3" fill="none" stroke="#1e1e1e" stroke-width="1.55" stroke-linejoin="miter" stroke-linecap="square"/>
<path d="M1112.7 531.8 L1117.2 536.3 L1112.7 540.8" fill="none" stroke="#1e1e1e" stroke-width="1.45" stroke-linejoin="miter" stroke-linecap="square"/>
<path d="M1117.1 531.8 L1121.6 536.3 L1117.1 540.8" fill="none" stroke="#1e1e1e" stroke-width="1.45" stroke-linejoin="miter" stroke-linecap="square"/>
<text x="1127.2" y="541.5" font-size="14.5" textLength="26.6" lengthAdjust="spacing" stroke="#1e1e1e" stroke-width="0.45">P6B</text>
<path d="M1002.4 550.65 L1077.9 550.65" fill="none" stroke="#1e1e1e" stroke-width="1.55" stroke-linejoin="miter" stroke-linecap="square"/>
<rect x="1077.9" y="546.55" width="20.9" height="8.2" fill="#fff" stroke="#1e1e1e" stroke-width="1.9"/>
<path d="M1098.8 550.65 L1114 550.65" fill="none" stroke="#1e1e1e" stroke-width="1.55" stroke-linejoin="miter" stroke-linecap="square"/>
<path d="M1112.7 546.15 L1117.2 550.65 L1112.7 555.15" fill="none" stroke="#1e1e1e" stroke-width="1.45" stroke-linejoin="miter" stroke-linecap="square"/>
<path d="M1117.1 546.15 L1121.6 550.65 L1117.1 555.15" fill="none" stroke="#1e1e1e" stroke-width="1.45" stroke-linejoin="miter" stroke-linecap="square"/>
<text x="1127.2" y="555.85" font-size="14.5" textLength="37.8" lengthAdjust="spacing" stroke="#1e1e1e" stroke-width="0.45">P6BN</text>
<text x="1067.53" y="425.9" font-size="14.5" textLength="74.5" lengthAdjust="spacing" stroke="#1e1e1e" stroke-width="0.45">R35 4 * 1k</text>
<text x="1067.39" y="439.8" font-size="14.5" textLength="74.5" lengthAdjust="spacing" stroke="#1e1e1e" stroke-width="0.45">R38 4 * 1k</text>
<text x="1082.81" y="572.06" font-size="14.5" textLength="74.5" lengthAdjust="spacing" stroke="#1e1e1e" stroke-width="0.45">R39 4 * 1k</text>
<path d="M1002.4 421.5 L1059.31 421.5 L1059.31 264.02 L1087.39 264.02" fill="none" stroke="#1e1e1e" stroke-width="1.55" stroke-linejoin="miter" stroke-linecap="square"/>
<path d="M1002.4 435.85 L1044.1 435.85 L1044.1 212.26" fill="none" stroke="#1e1e1e" stroke-width="1.55" stroke-linejoin="miter" stroke-linecap="square"/>
<circle cx="1044.1" cy="208.16" r="3.7" fill="#fff" stroke="#1e1e1e" stroke-width="1.2"/>
<path d="M1044.1 235.03 L1062.48 235.03" fill="none" stroke="#1e1e1e" stroke-width="1.55" stroke-linejoin="miter" stroke-linecap="square"/>
<rect x="1061.48" y="228.33" width="2" height="13.4" fill="#1e1e1e"/>
<rect x="1067.58" y="228.33" width="2" height="13.4" fill="#1e1e1e"/>
<path d="M1068.58 235.03 L1087.39 235.03 L1087.39 279.58" fill="none" stroke="#1e1e1e" stroke-width="1.55" stroke-linejoin="miter" stroke-linecap="square"/>
<rect x="1078.89" y="277.78" width="17" height="3.6" fill="#1e1e1e"/>
<text x="985.76" y="215.39" font-size="14.5" textLength="48" lengthAdjust="spacing" stroke="#1e1e1e" stroke-width="0.45">+ 3.3V</text>
<text x="1053.61" y="210.35" font-size="14.5" textLength="73.2" lengthAdjust="spacing" stroke="#1e1e1e" stroke-width="0.45">R30  4 * 1k</text>
<text x="1099.77" y="235.9" font-size="14.5" textLength="27.4" lengthAdjust="spacing" stroke="#1e1e1e" stroke-width="0.45">C69</text>
<text x="1091.44" y="249.72" font-size="14.5" textLength="45.3" lengthAdjust="spacing" stroke="#1e1e1e" stroke-width="0.45">0.1<tspan font-style="italic">μ</tspan>F</text>
<path d="M1002.4 565 L1077.21 565 L1077.21 751.06 L773.91 751.06 L773.91 650.7" fill="none" stroke="#1e1e1e" stroke-width="1.55" stroke-linejoin="miter" stroke-linecap="square"/>
<path d="M1002.4 579.35 L1061.51 579.35 L1061.51 736.77 L803.11 736.77 L803.11 650.7" fill="none" stroke="#1e1e1e" stroke-width="1.55" stroke-linejoin="miter" stroke-linecap="square"/>
<path d="M1002.4 593.7 L1048.01 593.7 L1048.01 722.48 L832.11 722.48 L832.11 650.7" fill="none" stroke="#1e1e1e" stroke-width="1.55" stroke-linejoin="miter" stroke-linecap="square"/>
<path d="M846.61 650.7 L846.61 765.35 L917.11 765.35 L917.11 650.7" fill="none" stroke="#1e1e1e" stroke-width="1.55" stroke-linejoin="miter" stroke-linecap="square"/>
<path d="M817.31 650.7 L817.31 779.64 L903.01 779.64 L903.01 650.7" fill="none" stroke="#1e1e1e" stroke-width="1.55" stroke-linejoin="miter" stroke-linecap="square"/>
<path d="M788.71 650.7 L788.71 793.93 L888.71 793.93 L888.71 650.7" fill="none" stroke="#1e1e1e" stroke-width="1.55" stroke-linejoin="miter" stroke-linecap="square"/>
<path d="M729.71 650.7 L729.71 693.9 L946.41 693.9 L946.41 650.7" fill="none" stroke="#1e1e1e" stroke-width="1.55" stroke-linejoin="miter" stroke-linecap="square"/>
<path d="M744.41 650.7 L744.41 693.9" fill="none" stroke="#1e1e1e" stroke-width="1.55" stroke-linejoin="miter" stroke-linecap="square"/>
<path d="M759.11 650.7 L759.11 693.9" fill="none" stroke="#1e1e1e" stroke-width="1.55" stroke-linejoin="miter" stroke-linecap="square"/>
<path d="M686.21 650.7 L686.21 693.9 L715.41 693.9 L715.41 650.7" fill="none" stroke="#1e1e1e" stroke-width="1.55" stroke-linejoin="miter" stroke-linecap="square"/>
<path d="M700.91 650.7 L700.91 708.19 L931.81 708.19 L931.81 650.7" fill="none" stroke="#1e1e1e" stroke-width="1.55" stroke-linejoin="miter" stroke-linecap="square"/>
<circle cx="700.91" cy="693.9" r="3" fill="#1e1e1e"/>
<path d="M627.91 650.7 L627.91 673.49" fill="none" stroke="#1e1e1e" stroke-width="1.55" stroke-linejoin="miter" stroke-linecap="square"/>
<circle cx="627.91" cy="677.09" r="3.7" fill="#fff" stroke="#1e1e1e" stroke-width="1.2"/>
<path d="M859.91 650.7 L859.91 673.49" fill="none" stroke="#1e1e1e" stroke-width="1.55" stroke-linejoin="miter" stroke-linecap="square"/>
<circle cx="859.91" cy="677.09" r="3.7" fill="#fff" stroke="#1e1e1e" stroke-width="1.2"/>
<path d="M873.81 650.7 L873.81 673.49" fill="none" stroke="#1e1e1e" stroke-width="1.55" stroke-linejoin="miter" stroke-linecap="square"/>
<circle cx="873.81" cy="677.09" r="3.7" fill="#fff" stroke="#1e1e1e" stroke-width="1.2"/>
<path d="M960.31 650.7 L960.31 673.49" fill="none" stroke="#1e1e1e" stroke-width="1.55" stroke-linejoin="miter" stroke-linecap="square"/>
<circle cx="960.31" cy="677.09" r="3.7" fill="#fff" stroke="#1e1e1e" stroke-width="1.2"/>
<path d="M974.71 650.7 L974.71 673.49" fill="none" stroke="#1e1e1e" stroke-width="1.55" stroke-linejoin="miter" stroke-linecap="square"/>
<circle cx="974.71" cy="677.09" r="3.7" fill="#fff" stroke="#1e1e1e" stroke-width="1.2"/>
<circle cx="615.31" cy="722.14" r="3.8" fill="#fff" stroke="#1e1e1e" stroke-width="1.2"/>
<path d="M618.91 722.55 L685.83 722.55" fill="none" stroke="#1e1e1e" stroke-width="1.55" stroke-linejoin="miter" stroke-linecap="square"/>
<path d="M642.51 650.7 L642.51 722.55" fill="none" stroke="#1e1e1e" stroke-width="1.55" stroke-linejoin="miter" stroke-linecap="square"/>
<path d="M672.41 650.7 L672.41 722.55" fill="none" stroke="#1e1e1e" stroke-width="1.55" stroke-linejoin="miter" stroke-linecap="square"/>
<path d="M685.83 722.55 L685.83 742.53" fill="none" stroke="#1e1e1e" stroke-width="1.55" stroke-linejoin="miter" stroke-linecap="square"/>
<rect x="679.33" y="741.53" width="13" height="2" fill="#1e1e1e"/>
<rect x="679.33" y="747.03" width="13" height="2" fill="#1e1e1e"/>
<path d="M685.83 748.03 L685.83 780.43" fill="none" stroke="#1e1e1e" stroke-width="1.55" stroke-linejoin="miter" stroke-linecap="square"/>
<rect x="677.13" y="778.63" width="17.4" height="3.6" fill="#1e1e1e"/>
<text x="591.99" y="744.32" font-size="14.5" textLength="48.9" lengthAdjust="spacing" stroke="#1e1e1e" stroke-width="0.45">+ 3.3V</text>
<text x="707.32" y="742.84" font-size="14.5" textLength="27.3" lengthAdjust="spacing" stroke="#1e1e1e" stroke-width="0.45">C71</text>
<text x="699.96" y="759.37" font-size="14.5" textLength="44" lengthAdjust="spacing" stroke="#1e1e1e" stroke-width="0.45">0.1<tspan font-style="italic">μ</tspan>F</text>
<path d="M657.21 650.7 L657.21 765.66 L554 765.66 L554 378.8 L596.6 378.8" fill="none" stroke="#1e1e1e" stroke-width="1.55" stroke-linejoin="miter" stroke-linecap="square"/>
<path d="M657.21 765.66 L685.83 765.66" fill="none" stroke="#1e1e1e" stroke-width="1.55" stroke-linejoin="miter" stroke-linecap="square"/>
<path d="M554 522.8 L596.6 522.8" fill="none" stroke="#1e1e1e" stroke-width="1.55" stroke-linejoin="miter" stroke-linecap="square"/>
<path d="M554 537.2 L596.6 537.2" fill="none" stroke="#1e1e1e" stroke-width="1.55" stroke-linejoin="miter" stroke-linecap="square"/>
<path d="M573.15 278 L596.6 278" fill="none" stroke="#1e1e1e" stroke-width="1.55" stroke-linejoin="miter" stroke-linecap="square"/>
<circle cx="569.55" cy="278" r="3.8" fill="#fff" stroke="#1e1e1e" stroke-width="1.2"/>
<path d="M573.15 292.4 L596.6 292.4" fill="none" stroke="#1e1e1e" stroke-width="1.55" stroke-linejoin="miter" stroke-linecap="square"/>
<circle cx="569.55" cy="292.4" r="3.8" fill="#fff" stroke="#1e1e1e" stroke-width="1.2"/>
<path d="M575.09 594.8 L596.6 594.8" fill="none" stroke="#1e1e1e" stroke-width="1.55" stroke-linejoin="miter" stroke-linecap="square"/>
<circle cx="571.49" cy="594.8" r="3.8" fill="#fff" stroke="#1e1e1e" stroke-width="1.2"/>
<path d="M575.09 609.2 L596.6 609.2" fill="none" stroke="#1e1e1e" stroke-width="1.55" stroke-linejoin="miter" stroke-linecap="square"/>
<circle cx="571.49" cy="609.2" r="3.8" fill="#fff" stroke="#1e1e1e" stroke-width="1.2"/>
<path d="M575.09 623.6 L596.6 623.6" fill="none" stroke="#1e1e1e" stroke-width="1.55" stroke-linejoin="miter" stroke-linecap="square"/>
<circle cx="571.49" cy="623.6" r="3.8" fill="#fff" stroke="#1e1e1e" stroke-width="1.2"/>
<path d="M596.6 306.8 L568.3 306.8 L568.3 335.6 L596.6 335.6" fill="none" stroke="#1e1e1e" stroke-width="1.55" stroke-linejoin="miter" stroke-linecap="square"/>
<circle cx="568.3" cy="321.2" r="3" fill="#1e1e1e"/>
<path d="M109.16 479.25 L348 479.25 L348 321.2 L596.6 321.2" fill="none" stroke="#1e1e1e" stroke-width="1.55" stroke-linejoin="miter" stroke-linecap="square"/>
<path d="M99.76 474.75 L104.26 479.25 L99.76 483.75" fill="none" stroke="#1e1e1e" stroke-width="1.45" stroke-linejoin="miter" stroke-linecap="square"/>
<path d="M104.16 474.75 L108.66 479.25 L104.16 483.75" fill="none" stroke="#1e1e1e" stroke-width="1.45" stroke-linejoin="miter" stroke-linecap="square"/>
<path d="M109.16 493.5 L363.5 493.5 L363.5 350 L596.6 350" fill="none" stroke="#1e1e1e" stroke-width="1.55" stroke-linejoin="miter" stroke-linecap="square"/>
<path d="M99.76 489 L104.26 493.5 L99.76 498" fill="none" stroke="#1e1e1e" stroke-width="1.45" stroke-linejoin="miter" stroke-linecap="square"/>
<path d="M104.16 489 L108.66 493.5 L104.16 498" fill="none" stroke="#1e1e1e" stroke-width="1.45" stroke-linejoin="miter" stroke-linecap="square"/>
<path d="M109.16 507.75 L378.2 507.75 L378.2 393.2 L596.6 393.2" fill="none" stroke="#1e1e1e" stroke-width="1.55" stroke-linejoin="miter" stroke-linecap="square"/>
<path d="M99.76 503.25 L104.26 507.75 L99.76 512.25" fill="none" stroke="#1e1e1e" stroke-width="1.45" stroke-linejoin="miter" stroke-linecap="square"/>
<path d="M104.16 503.25 L108.66 507.75 L104.16 512.25" fill="none" stroke="#1e1e1e" stroke-width="1.45" stroke-linejoin="miter" stroke-linecap="square"/>
<path d="M109.16 522 L393.3 522 L393.3 407.6 L596.6 407.6" fill="none" stroke="#1e1e1e" stroke-width="1.55" stroke-linejoin="miter" stroke-linecap="square"/>
<path d="M99.76 517.5 L104.26 522 L99.76 526.5" fill="none" stroke="#1e1e1e" stroke-width="1.45" stroke-linejoin="miter" stroke-linecap="square"/>
<path d="M104.16 517.5 L108.66 522 L104.16 526.5" fill="none" stroke="#1e1e1e" stroke-width="1.45" stroke-linejoin="miter" stroke-linecap="square"/>
<path d="M109.16 536.25 L408 536.25 L408 422 L596.6 422" fill="none" stroke="#1e1e1e" stroke-width="1.55" stroke-linejoin="miter" stroke-linecap="square"/>
<path d="M99.76 531.75 L104.26 536.25 L99.76 540.75" fill="none" stroke="#1e1e1e" stroke-width="1.45" stroke-linejoin="miter" stroke-linecap="square"/>
<path d="M104.16 531.75 L108.66 536.25 L104.16 540.75" fill="none" stroke="#1e1e1e" stroke-width="1.45" stroke-linejoin="miter" stroke-linecap="square"/>
<path d="M109.16 550.5 L423.1 550.5 L423.1 436.4 L596.6 436.4" fill="none" stroke="#1e1e1e" stroke-width="1.55" stroke-linejoin="miter" stroke-linecap="square"/>
<path d="M99.76 546 L104.26 550.5 L99.76 555" fill="none" stroke="#1e1e1e" stroke-width="1.45" stroke-linejoin="miter" stroke-linecap="square"/>
<path d="M104.16 546 L108.66 550.5 L104.16 555" fill="none" stroke="#1e1e1e" stroke-width="1.45" stroke-linejoin="miter" stroke-linecap="square"/>
<path d="M109.16 564.75 L438 564.75 L438 450.8 L596.6 450.8" fill="none" stroke="#1e1e1e" stroke-width="1.55" stroke-linejoin="miter" stroke-linecap="square"/>
<path d="M99.76 560.25 L104.26 564.75 L99.76 569.25" fill="none" stroke="#1e1e1e" stroke-width="1.45" stroke-linejoin="miter" stroke-linecap="square"/>
<path d="M104.16 560.25 L108.66 564.75 L104.16 569.25" fill="none" stroke="#1e1e1e" stroke-width="1.45" stroke-linejoin="miter" stroke-linecap="square"/>
<path d="M109.16 579 L453.2 579 L453.2 465.2 L596.6 465.2" fill="none" stroke="#1e1e1e" stroke-width="1.55" stroke-linejoin="miter" stroke-linecap="square"/>
<path d="M99.76 574.5 L104.26 579 L99.76 583.5" fill="none" stroke="#1e1e1e" stroke-width="1.45" stroke-linejoin="miter" stroke-linecap="square"/>
<path d="M104.16 574.5 L108.66 579 L104.16 583.5" fill="none" stroke="#1e1e1e" stroke-width="1.45" stroke-linejoin="miter" stroke-linecap="square"/>
<path d="M109.16 593.25 L467.8 593.25 L467.8 479.6 L596.6 479.6" fill="none" stroke="#1e1e1e" stroke-width="1.55" stroke-linejoin="miter" stroke-linecap="square"/>
<path d="M99.76 588.75 L104.26 593.25 L99.76 597.75" fill="none" stroke="#1e1e1e" stroke-width="1.45" stroke-linejoin="miter" stroke-linecap="square"/>
<path d="M104.16 588.75 L108.66 593.25 L104.16 597.75" fill="none" stroke="#1e1e1e" stroke-width="1.45" stroke-linejoin="miter" stroke-linecap="square"/>
<path d="M109.16 607.5 L483.2 607.5 L483.2 494 L596.6 494" fill="none" stroke="#1e1e1e" stroke-width="1.55" stroke-linejoin="miter" stroke-linecap="square"/>
<path d="M99.76 603 L104.26 607.5 L99.76 612" fill="none" stroke="#1e1e1e" stroke-width="1.45" stroke-linejoin="miter" stroke-linecap="square"/>
<path d="M104.16 603 L108.66 607.5 L104.16 612" fill="none" stroke="#1e1e1e" stroke-width="1.45" stroke-linejoin="miter" stroke-linecap="square"/>
<path d="M109.16 465 L334.5 465 L334.5 147.57 L318.56 147.57" fill="none" stroke="#1e1e1e" stroke-width="1.55" stroke-linejoin="miter" stroke-linecap="square"/>
<path d="M102.86 460.5 L98.36 465 L102.86 469.5" fill="none" stroke="#1e1e1e" stroke-width="1.45" stroke-linejoin="miter" stroke-linecap="square"/>
<path d="M107.26 460.5 L102.76 465 L107.26 469.5" fill="none" stroke="#1e1e1e" stroke-width="1.45" stroke-linejoin="miter" stroke-linecap="square"/>
<rect x="137.88" y="546.6" width="21" height="7.8" fill="#fff" stroke="#1e1e1e" stroke-width="1.9"/>
<rect x="137.88" y="560.85" width="21" height="7.8" fill="#fff" stroke="#1e1e1e" stroke-width="1.9"/>
<rect x="137.88" y="575.1" width="21" height="7.8" fill="#fff" stroke="#1e1e1e" stroke-width="1.9"/>
<rect x="137.88" y="589.35" width="21" height="7.8" fill="#fff" stroke="#1e1e1e" stroke-width="1.9"/>
<rect x="137.88" y="603.6" width="21" height="7.8" fill="#fff" stroke="#1e1e1e" stroke-width="1.9"/>
<text x="26.4" y="470.41" font-size="14.5" textLength="68.8" lengthAdjust="spacing" stroke="#1e1e1e" stroke-width="0.45">PROTECT</text>
<text x="53.67" y="484.07" font-size="14.5" textLength="41.4" lengthAdjust="spacing" stroke="#1e1e1e" stroke-width="0.45">MUTE</text>
<text x="0.63" y="497.36" font-size="14.5" textLength="94.3" lengthAdjust="spacing" stroke="#1e1e1e" stroke-width="0.45">AV – SELECT</text>
<text x="68.98" y="513.22" font-size="14.5" textLength="25.8" lengthAdjust="spacing" stroke="#1e1e1e" stroke-width="0.45">DIV</text>
<text x="54.15" y="526.58" font-size="14.29" textLength="40.5" lengthAdjust="spacing" stroke="#1e1e1e" stroke-width="0.45">DVCK</text>
<text x="60.72" y="540.15" font-size="14.5" textLength="33.8" lengthAdjust="spacing" stroke="#1e1e1e" stroke-width="0.45">WEN</text>
<text x="30.28" y="554.85" font-size="14.5" textLength="64.1" lengthAdjust="spacing" stroke="#1e1e1e" stroke-width="0.45">DATAIN1</text>
<text x="31.03" y="570.16" font-size="14.5" textLength="63.2" lengthAdjust="spacing" stroke="#1e1e1e" stroke-width="0.45">DATAIB2</text>
<text x="29.99" y="584.45" font-size="14.5" textLength="65.8" lengthAdjust="spacing" stroke="#1e1e1e" stroke-width="0.45">DATAIN3</text>
<text x="38.95" y="598.74" font-size="14.5" textLength="56.7" lengthAdjust="spacing" stroke="#1e1e1e" stroke-width="0.45">LRCKIN</text>
<text x="48.81" y="613.34" font-size="14.5" textLength="46.7" lengthAdjust="spacing" stroke="#1e1e1e" stroke-width="0.45">BCKIN</text>
<text x="122.35" y="630.75" font-size="14.5" textLength="137.7" lengthAdjust="spacing" stroke="#1e1e1e" stroke-width="0.45">R40 – R44  200Ω × 5</text>
<path d="M510.5 508.4 L596.6 508.4" fill="none" stroke="#1e1e1e" stroke-width="1.55" stroke-linejoin="miter" stroke-linecap="square"/>
<path d="M525.5 551.6 L596.6 551.6" fill="none" stroke="#1e1e1e" stroke-width="1.55" stroke-linejoin="miter" stroke-linecap="square"/>
<path d="M540.9 566 L596.6 566" fill="none" stroke="#1e1e1e" stroke-width="1.55" stroke-linejoin="miter" stroke-linecap="square"/>
<path d="M496.9 580.4 L596.6 580.4" fill="none" stroke="#1e1e1e" stroke-width="1.55" stroke-linejoin="miter" stroke-linecap="square"/>
<rect x="278.37" y="694.94" width="115.8" height="98.7" fill="none" stroke="#1e1e1e" stroke-width="1.9"/>
<path d="M394.17 723.81 L443.58 723.81" fill="none" stroke="#1e1e1e" stroke-width="1.55" stroke-linejoin="miter" stroke-linecap="square"/>
<rect x="443.58" y="719.91" width="20.1" height="7.8" fill="#fff" stroke="#1e1e1e" stroke-width="1.9"/>
<path d="M394.17 737.81 L443.58 737.81" fill="none" stroke="#1e1e1e" stroke-width="1.55" stroke-linejoin="miter" stroke-linecap="square"/>
<rect x="443.58" y="733.91" width="20.1" height="7.8" fill="#fff" stroke="#1e1e1e" stroke-width="1.9"/>
<path d="M394.17 751.61 L443.58 751.61" fill="none" stroke="#1e1e1e" stroke-width="1.55" stroke-linejoin="miter" stroke-linecap="square"/>
<rect x="443.58" y="747.71" width="20.1" height="7.8" fill="#fff" stroke="#1e1e1e" stroke-width="1.9"/>
<path d="M394.17 765.51 L443.58 765.51" fill="none" stroke="#1e1e1e" stroke-width="1.55" stroke-linejoin="miter" stroke-linecap="square"/>
<rect x="443.58" y="761.61" width="20.1" height="7.8" fill="#fff" stroke="#1e1e1e" stroke-width="1.9"/>
<path d="M463.68 723.81 L496.9 723.81 L496.9 682.59" fill="none" stroke="#1e1e1e" stroke-width="1.55" stroke-linejoin="miter" stroke-linecap="square"/>
<path d="M496.9 636.19 L496.9 580.4" fill="none" stroke="#1e1e1e" stroke-width="1.55" stroke-linejoin="miter" stroke-linecap="square"/>
<path d="M496.9 636.19 a6.96 7.73 0 0 0 0 15.47 a6.96 7.73 0 0 0 0 15.47 a6.96 7.73 0 0 0 0 15.47" fill="none" stroke="#1e1e1e" stroke-width="1.4"/>
<path d="M463.68 737.81 L525.5 737.81 L525.5 551.6" fill="none" stroke="#1e1e1e" stroke-width="1.55" stroke-linejoin="miter" stroke-linecap="square"/>
<path d="M463.68 751.61 L540.9 751.61 L540.9 566" fill="none" stroke="#1e1e1e" stroke-width="1.55" stroke-linejoin="miter" stroke-linecap="square"/>
<path d="M463.68 765.51 L510.5 765.51 L510.5 508.4" fill="none" stroke="#1e1e1e" stroke-width="1.55" stroke-linejoin="miter" stroke-linecap="square"/>
<path d="M424.35 765.51 L424.35 822.05" fill="none" stroke="#1e1e1e" stroke-width="1.55" stroke-linejoin="miter" stroke-linecap="square"/>
<rect x="420" y="783.5" width="8.7" height="20" fill="#fff" stroke="#1e1e1e" stroke-width="1.8"/>
<circle cx="424.35" cy="765.51" r="0" fill="#1e1e1e"/>
<path d="M337.95 793.64 L337.95 822.05" fill="none" stroke="#1e1e1e" stroke-width="1.55" stroke-linejoin="miter" stroke-linecap="square"/>
<path d="M220.44 822.05 L424.35 822.05" fill="none" stroke="#1e1e1e" stroke-width="1.55" stroke-linejoin="miter" stroke-linecap="square"/>
<circle cx="311.94" cy="623.59" r="3.8" fill="#fff" stroke="#1e1e1e" stroke-width="1.2"/>
<path d="M315.54 622.99 L379.75 622.99" fill="none" stroke="#1e1e1e" stroke-width="1.55" stroke-linejoin="miter" stroke-linecap="square"/>
<path d="M337.31 622.99 L337.31 694.94" fill="none" stroke="#1e1e1e" stroke-width="1.55" stroke-linejoin="miter" stroke-linecap="square"/>
<path d="M350.35 622.99 L350.35 640.94" fill="none" stroke="#1e1e1e" stroke-width="1.55" stroke-linejoin="miter" stroke-linecap="square"/>
<rect x="343.55" y="639.94" width="13.6" height="2" fill="#1e1e1e"/>
<rect x="343.55" y="645.54" width="13.6" height="2" fill="#1e1e1e"/>
<path d="M350.35 646.54 L350.35 665.21" fill="none" stroke="#1e1e1e" stroke-width="1.55" stroke-linejoin="miter" stroke-linecap="square"/>
<path d="M379.75 622.99 L379.75 641.23" fill="none" stroke="#1e1e1e" stroke-width="1.55" stroke-linejoin="miter" stroke-linecap="square"/>
<rect x="372.95" y="640.23" width="13.6" height="2" fill="#1e1e1e"/>
<rect x="372.95" y="645.83" width="13.6" height="2" fill="#1e1e1e"/>
<path d="M379.75 646.83 L379.75 665.21" fill="none" stroke="#1e1e1e" stroke-width="1.55" stroke-linejoin="miter" stroke-linecap="square"/>
<path d="M350.35 665.21 L379.75 665.21" fill="none" stroke="#1e1e1e" stroke-width="1.55" stroke-linejoin="miter" stroke-linecap="square"/>
<path d="M365.46 665.21 L365.46 680.61" fill="none" stroke="#1e1e1e" stroke-width="1.55" stroke-linejoin="miter" stroke-linecap="square"/>
<rect x="356.26" y="678.81" width="18.4" height="3.6" fill="#1e1e1e"/>
<path d="M101.63 718.58 L106.13 723.08 L101.63 727.58" fill="none" stroke="#1e1e1e" stroke-width="1.45" stroke-linejoin="miter" stroke-linecap="square"/>
<path d="M106.03 718.58 L110.53 723.08 L106.03 727.58" fill="none" stroke="#1e1e1e" stroke-width="1.45" stroke-linejoin="miter" stroke-linecap="square"/>
<path d="M108.83 723.08 L196.83 723.08" fill="none" stroke="#1e1e1e" stroke-width="1.55" stroke-linejoin="miter" stroke-linecap="square"/>
<rect x="138.83" y="719.18" width="22" height="7.8" fill="#fff" stroke="#1e1e1e" stroke-width="1.9"/>
<rect x="196.33" y="716.78" width="2" height="12.6" fill="#1e1e1e"/>
<rect x="201.33" y="716.78" width="2" height="12.6" fill="#1e1e1e"/>
<path d="M202.33 723.08 L278.37 723.08" fill="none" stroke="#1e1e1e" stroke-width="1.55" stroke-linejoin="miter" stroke-linecap="square"/>
<path d="M101.63 746.78 L106.13 751.28 L101.63 755.78" fill="none" stroke="#1e1e1e" stroke-width="1.45" stroke-linejoin="miter" stroke-linecap="square"/>
<path d="M106.03 746.78 L110.53 751.28 L106.03 755.78" fill="none" stroke="#1e1e1e" stroke-width="1.45" stroke-linejoin="miter" stroke-linecap="square"/>
<path d="M108.83 751.28 L196.83 751.28" fill="none" stroke="#1e1e1e" stroke-width="1.55" stroke-linejoin="miter" stroke-linecap="square"/>
<rect x="138.83" y="747.38" width="22" height="7.8" fill="#fff" stroke="#1e1e1e" stroke-width="1.9"/>
<rect x="196.33" y="744.98" width="2" height="12.6" fill="#1e1e1e"/>
<rect x="201.33" y="744.98" width="2" height="12.6" fill="#1e1e1e"/>
<path d="M202.33 751.28 L278.37 751.28" fill="none" stroke="#1e1e1e" stroke-width="1.55" stroke-linejoin="miter" stroke-linecap="square"/>
<path d="M220.44 723.08 L220.44 798.52" fill="none" stroke="#1e1e1e" stroke-width="1.55" stroke-linejoin="miter" stroke-linecap="square"/>
<rect x="213.84" y="797.52" width="13.2" height="2" fill="#1e1e1e"/>
<rect x="213.84" y="803.52" width="13.2" height="2" fill="#1e1e1e"/>
<path d="M220.44 804.52 L220.44 822.05" fill="none" stroke="#1e1e1e" stroke-width="1.55" stroke-linejoin="miter" stroke-linecap="square"/>
<path d="M250.35 751.28 L250.35 798.81" fill="none" stroke="#1e1e1e" stroke-width="1.55" stroke-linejoin="miter" stroke-linecap="square"/>
<rect x="243.75" y="797.81" width="13.2" height="2" fill="#1e1e1e"/>
<rect x="243.75" y="803.81" width="13.2" height="2" fill="#1e1e1e"/>
<path d="M250.35 804.81 L250.35 822.05" fill="none" stroke="#1e1e1e" stroke-width="1.55" stroke-linejoin="miter" stroke-linecap="square"/>
<text x="269.88" y="629.18" font-size="14.5" textLength="31" lengthAdjust="spacing" stroke="#1e1e1e" stroke-width="0.45">+ 5V</text>
<text x="307.53" y="644.55" font-size="14.5" textLength="25" lengthAdjust="spacing" stroke="#1e1e1e" stroke-width="0.45">C72</text>
<text x="290.59" y="659.39" font-size="14.5" textLength="41.8" lengthAdjust="spacing" stroke="#1e1e1e" stroke-width="0.45">100<tspan font-style="italic">μ</tspan>F</text>
<text x="326.68" y="691.64" font-size="13.5" textLength="6.8" lengthAdjust="spacing" stroke="#1e1e1e" stroke-width="0.45">7</text>
<text x="321.89" y="710.9" font-size="14.5" textLength="31.7" lengthAdjust="spacing" stroke="#1e1e1e" stroke-width="0.45">VA +</text>
<text x="267.5" y="719.77" font-size="13.5" textLength="6.8" lengthAdjust="spacing" stroke="#1e1e1e" stroke-width="0.45">8</text>
<text x="283.93" y="727.33" font-size="13.02" textLength="31.1" lengthAdjust="spacing" stroke="#1e1e1e" stroke-width="0.45">AINL</text>
<text x="267.22" y="748.47" font-size="13.5" textLength="6.8" lengthAdjust="spacing" stroke="#1e1e1e" stroke-width="0.45">5</text>
<text x="283.16" y="754.62" font-size="12.93" textLength="31.6" lengthAdjust="spacing" stroke="#1e1e1e" stroke-width="0.45">AINR</text>
<text x="40.68" y="729.67" font-size="14.5" textLength="55.2" lengthAdjust="spacing" stroke="#1e1e1e" stroke-width="0.45">AL – IN</text>
<text x="37.42" y="756.84" font-size="14.5" textLength="58.2" lengthAdjust="spacing" stroke="#1e1e1e" stroke-width="0.45">AR – IN</text>
<text x="137.54" y="713.91" font-size="14.5" textLength="25.9" lengthAdjust="spacing" stroke="#1e1e1e" stroke-width="0.45">R46</text>
<text x="172.37" y="711.25" font-size="14.5" textLength="77.8" lengthAdjust="spacing" stroke="#1e1e1e" stroke-width="0.45">0.47<tspan font-style="italic">μ</tspan>F × 2</text>
<text x="138.17" y="742.62" font-size="14.5" textLength="26.2" lengthAdjust="spacing" stroke="#1e1e1e" stroke-width="0.45">R49</text>
<text x="168.42" y="747.51" font-size="14.5" textLength="25.5" lengthAdjust="spacing" stroke="#1e1e1e" stroke-width="0.45">C74</text>
<text x="169.45" y="765.62" font-size="14.5" textLength="25.9" lengthAdjust="spacing" stroke="#1e1e1e" stroke-width="0.45">C75</text>
<text x="108.87" y="772.64" font-size="14.5" textLength="57.6" lengthAdjust="spacing" stroke="#1e1e1e" stroke-width="0.45">1500 × 2</text>
<text x="185.12" y="798.98" font-size="14.5" textLength="26.5" lengthAdjust="spacing" stroke="#1e1e1e" stroke-width="0.45">C76</text>
<text x="161.68" y="813.95" font-size="14.5" textLength="49.8" lengthAdjust="spacing" stroke="#1e1e1e" stroke-width="0.45">1000pF</text>
<text x="251.68" y="793.62" font-size="14.5" textLength="26.4" lengthAdjust="spacing" stroke="#1e1e1e" stroke-width="0.45">C77</text>
<text x="254.44" y="819.05" font-size="14.5" textLength="49.1" lengthAdjust="spacing" stroke="#1e1e1e" stroke-width="0.45">1000pF</text>
<text x="330.37" y="734.18" font-size="12.52" textLength="15.3" lengthAdjust="spacing" stroke="#1e1e1e" stroke-width="0.45">U5</text>
<text x="316.92" y="749.45" font-size="13.19" textLength="42.5" lengthAdjust="spacing" stroke="#1e1e1e" stroke-width="0.45">CS5330</text>
<text x="360.36" y="725.17" font-size="10.97" textLength="31.7" lengthAdjust="spacing" stroke="#1e1e1e" stroke-width="0.45">MCLK</text>
<text x="361.81" y="740.69" font-size="11.29" textLength="30.1" lengthAdjust="spacing" stroke="#1e1e1e" stroke-width="0.45">LRCK</text>
<text x="367.76" y="756.14" font-size="11.67" textLength="24" lengthAdjust="spacing" stroke="#1e1e1e" stroke-width="0.45">BCK</text>
<text x="354.71" y="771.42" font-size="11.74" textLength="36.9" lengthAdjust="spacing" stroke="#1e1e1e" stroke-width="0.45">SDATA</text>
<text x="316.54" y="788.05" font-size="14.5" textLength="44" lengthAdjust="spacing" stroke="#1e1e1e" stroke-width="0.45">AGND</text>
<text x="327.76" y="806.76" font-size="13.5" textLength="7.9" lengthAdjust="spacing" stroke="#1e1e1e" stroke-width="0.45">6</text>
<text x="397.52" y="719.43" font-size="13.5" textLength="7.9" lengthAdjust="spacing" stroke="#1e1e1e" stroke-width="0.45">4</text>
<text x="397.38" y="733.23" font-size="13.5" textLength="7.9" lengthAdjust="spacing" stroke="#1e1e1e" stroke-width="0.45">3</text>
<text x="397.23" y="748.73" font-size="13.5" textLength="7.9" lengthAdjust="spacing" stroke="#1e1e1e" stroke-width="0.45">2</text>
<text x="398.1" y="762.44" font-size="13.5" textLength="5.9" lengthAdjust="spacing" stroke="#1e1e1e" stroke-width="0.45">1</text>
<text x="398.25" y="643.73" font-size="14.5" textLength="27" lengthAdjust="spacing" stroke="#1e1e1e" stroke-width="0.45">C73</text>
<text x="390.4" y="659.06" font-size="14.5" textLength="44" lengthAdjust="spacing" stroke="#1e1e1e" stroke-width="0.45">0.1<tspan font-style="italic">μ</tspan>F</text>
<text x="447.53" y="656.61" font-size="14.5" textLength="23.9" lengthAdjust="spacing" stroke="#1e1e1e" stroke-width="0.45">L26</text>
<text x="435.89" y="670.4" font-size="14.5" textLength="50.9" lengthAdjust="spacing" stroke="#1e1e1e" stroke-width="0.45">120ohm</text>
<text x="433.78" y="795.39" font-size="14.5" textLength="27.1" lengthAdjust="spacing" stroke="#1e1e1e" stroke-width="0.45">R51</text>
<text x="433.65" y="809.29" font-size="14.5" textLength="27.1" lengthAdjust="spacing" stroke="#1e1e1e" stroke-width="0.45">47k</text>
<text x="469.42" y="781.83" font-size="14.5" textLength="71.8" lengthAdjust="spacing" stroke="#1e1e1e" stroke-width="0.45">R45 ~ R50</text>
<text x="473.98" y="795.78" font-size="14.5" textLength="62.5" lengthAdjust="spacing" stroke="#1e1e1e" stroke-width="0.45">200Ω × 4</text>
<path d="M353.63 635.32 L359.23 635.32" fill="none" stroke="#1e1e1e" stroke-width="1.3" stroke-linejoin="miter" stroke-linecap="square"/>
<path d="M356.43 632.52 L356.43 638.12" fill="none" stroke="#1e1e1e" stroke-width="1.3" stroke-linejoin="miter" stroke-linecap="square"/>
<circle cx="73.74" cy="23.02" r="3.7" fill="#fff" stroke="#1e1e1e" stroke-width="1.2"/>
<path d="M73.23 26.72 L73.23 83.02" fill="none" stroke="#1e1e1e" stroke-width="1.55" stroke-linejoin="miter" stroke-linecap="square"/>
<rect x="66.23" y="82.02" width="14" height="2" fill="#1e1e1e"/>
<rect x="66.23" y="88.02" width="14" height="2" fill="#1e1e1e"/>
<path d="M73.23 89.02 L73.23 120.02" fill="none" stroke="#1e1e1e" stroke-width="1.55" stroke-linejoin="miter" stroke-linecap="square"/>
<rect x="64.73" y="118.22" width="17" height="3.6" fill="#1e1e1e"/>
<path d="M73.23 48.65 L202.2 48.65" fill="none" stroke="#1e1e1e" stroke-width="1.55" stroke-linejoin="miter" stroke-linecap="square"/>
<rect x="119.5" y="44.9" width="21" height="7.5" fill="#fff" stroke="#1e1e1e" stroke-width="1.9"/>
<path d="M101.23 48.65 L101.23 82.9" fill="none" stroke="#1e1e1e" stroke-width="1.55" stroke-linejoin="miter" stroke-linecap="square"/>
<rect x="94.73" y="81.9" width="13" height="2" fill="#1e1e1e"/>
<rect x="94.73" y="88" width="13" height="2" fill="#1e1e1e"/>
<path d="M101.23 89 L101.23 104.44" fill="none" stroke="#1e1e1e" stroke-width="1.55" stroke-linejoin="miter" stroke-linecap="square"/>
<path d="M73.23 104.44 L158.95 104.44" fill="none" stroke="#1e1e1e" stroke-width="1.55" stroke-linejoin="miter" stroke-linecap="square"/>
<path d="M159.23 48.65 L159.23 104.44" fill="none" stroke="#1e1e1e" stroke-width="1.55" stroke-linejoin="miter" stroke-linecap="square"/>
<rect x="154.88" y="65.86" width="8.7" height="21" fill="#fff" stroke="#1e1e1e" stroke-width="1.8"/>
<path d="M202.2 48.65 L202.2 420.3" fill="none" stroke="#1e1e1e" stroke-width="1.55" stroke-linejoin="miter" stroke-linecap="square"/>
<text x="27.7" y="26.78" font-size="14.5" textLength="38.8" lengthAdjust="spacing" stroke="#1e1e1e" stroke-width="0.45">+ 24V</text>
<text x="99.58" y="39.48" font-size="14.5" textLength="63.8" lengthAdjust="spacing" stroke="#1e1e1e" stroke-width="0.45">R22  2.4k</text>
<text x="30.21" y="76.81" font-size="14.5" textLength="24.8" lengthAdjust="spacing" stroke="#1e1e1e" stroke-width="0.45">C61</text>
<text x="23.08" y="90.74" font-size="14.5" textLength="42.8" lengthAdjust="spacing" stroke="#1e1e1e" stroke-width="0.45">100<tspan font-style="italic">μ</tspan>F</text>
<text x="29.95" y="103.81" font-size="13.82" textLength="23.8" lengthAdjust="spacing" stroke="#1e1e1e" stroke-width="0.45">35V</text>
<text x="117.17" y="82.15" font-size="14.5" textLength="26.8" lengthAdjust="spacing" stroke="#1e1e1e" stroke-width="0.45">C62</text>
<text x="107.03" y="96.55" font-size="14.5" textLength="46.8" lengthAdjust="spacing" stroke="#1e1e1e" stroke-width="0.45">0.1<tspan font-style="italic">μ</tspan>F</text>
<text x="166.25" y="74.13" font-size="14.28" textLength="23.8" lengthAdjust="spacing" stroke="#1e1e1e" stroke-width="0.45">R25</text>
<text x="166.11" y="89.13" font-size="14.5" textLength="21.8" lengthAdjust="spacing" stroke="#1e1e1e" stroke-width="0.45">10k</text>
<path d="M77.03 75.49 L83.03 75.49" fill="none" stroke="#1e1e1e" stroke-width="1.3" stroke-linejoin="miter" stroke-linecap="square"/>
<path d="M80.03 72.49 L80.03 78.49" fill="none" stroke="#1e1e1e" stroke-width="1.3" stroke-linejoin="miter" stroke-linecap="square"/>
<path d="M55.33 144.2 L59.83 148.7 L55.33 153.2" fill="none" stroke="#1e1e1e" stroke-width="1.45" stroke-linejoin="miter" stroke-linecap="square"/>
<path d="M59.73 144.2 L64.23 148.7 L59.73 153.2" fill="none" stroke="#1e1e1e" stroke-width="1.45" stroke-linejoin="miter" stroke-linecap="square"/>
<path d="M64.13 148.7 L230.4 148.7" fill="none" stroke="#1e1e1e" stroke-width="1.55" stroke-linejoin="miter" stroke-linecap="square"/>
<rect x="90.53" y="144.95" width="21" height="7.5" fill="#fff" stroke="#1e1e1e" stroke-width="1.9"/>
<path d="M144.28 148.7 L144.28 207.72" fill="none" stroke="#1e1e1e" stroke-width="1.55" stroke-linejoin="miter" stroke-linecap="square"/>
<rect x="139.93" y="166.72" width="8.7" height="20" fill="#fff" stroke="#1e1e1e" stroke-width="1.8"/>
<rect x="135.78" y="205.92" width="17" height="3.6" fill="#1e1e1e"/>
<path d="M174.37 148.7 L174.37 166.01" fill="none" stroke="#1e1e1e" stroke-width="1.55" stroke-linejoin="miter" stroke-linecap="square"/>
<rect x="167.57" y="165.01" width="13.6" height="2" fill="#1e1e1e"/>
<rect x="167.57" y="171.01" width="13.6" height="2" fill="#1e1e1e"/>
<path d="M174.37 172.01 L174.37 190.14 L202.2 190.14" fill="none" stroke="#1e1e1e" stroke-width="1.55" stroke-linejoin="miter" stroke-linecap="square"/>
<path d="M202.2 176.43 L230.4 176.43" fill="none" stroke="#1e1e1e" stroke-width="1.55" stroke-linejoin="miter" stroke-linecap="square"/>
<path d="M230.4 134.56 L288 162.56 L230.4 190.56 L230.4 134.56" fill="none" stroke="#1e1e1e" stroke-width="2.3" stroke-linejoin="miter" stroke-linecap="square"/>
<circle cx="260.21" cy="122.54" r="3.7" fill="#fff" stroke="#1e1e1e" stroke-width="1.2"/>
<path d="M260.21 126.24 L260.21 149.05" fill="none" stroke="#1e1e1e" stroke-width="1.55" stroke-linejoin="miter" stroke-linecap="square"/>
<path d="M260.21 176.07 L260.21 206.84" fill="none" stroke="#1e1e1e" stroke-width="1.55" stroke-linejoin="miter" stroke-linecap="square"/>
<rect x="251.41" y="205.04" width="17.6" height="3.6" fill="#1e1e1e"/>
<path d="M288 162.56 L317 162.56" fill="none" stroke="#1e1e1e" stroke-width="1.55" stroke-linejoin="miter" stroke-linecap="square"/>
<path d="M57.21 259.8 L61.71 264.3 L57.21 268.8" fill="none" stroke="#1e1e1e" stroke-width="1.45" stroke-linejoin="miter" stroke-linecap="square"/>
<path d="M61.61 259.8 L66.11 264.3 L61.61 268.8" fill="none" stroke="#1e1e1e" stroke-width="1.45" stroke-linejoin="miter" stroke-linecap="square"/>
<path d="M66.01 264.3 L232.29 264.3" fill="none" stroke="#1e1e1e" stroke-width="1.55" stroke-linejoin="miter" stroke-linecap="square"/>
<rect x="92.41" y="260.55" width="21" height="7.5" fill="#fff" stroke="#1e1e1e" stroke-width="1.9"/>
<path d="M145.66 264.3 L145.66 322.75" fill="none" stroke="#1e1e1e" stroke-width="1.55" stroke-linejoin="miter" stroke-linecap="square"/>
<rect x="141.31" y="282.75" width="8.7" height="20" fill="#fff" stroke="#1e1e1e" stroke-width="1.8"/>
<rect x="137.16" y="320.95" width="17" height="3.6" fill="#1e1e1e"/>
<path d="M174.25 264.3 L174.25 284.62" fill="none" stroke="#1e1e1e" stroke-width="1.55" stroke-linejoin="miter" stroke-linecap="square"/>
<rect x="167.45" y="283.62" width="13.6" height="2" fill="#1e1e1e"/>
<rect x="167.45" y="289.62" width="13.6" height="2" fill="#1e1e1e"/>
<path d="M174.25 290.62 L174.25 306.14 L202.2 306.14" fill="none" stroke="#1e1e1e" stroke-width="1.55" stroke-linejoin="miter" stroke-linecap="square"/>
<path d="M202.2 293.43 L232.29 293.43" fill="none" stroke="#1e1e1e" stroke-width="1.55" stroke-linejoin="miter" stroke-linecap="square"/>
<path d="M232.29 249.19 L288.29 277.14 L232.29 305.09 L232.29 249.19" fill="none" stroke="#1e1e1e" stroke-width="2.3" stroke-linejoin="miter" stroke-linecap="square"/>
<circle cx="260.59" cy="236.46" r="3.7" fill="#fff" stroke="#1e1e1e" stroke-width="1.2"/>
<path d="M260.59 240.16 L260.59 263.31" fill="none" stroke="#1e1e1e" stroke-width="1.55" stroke-linejoin="miter" stroke-linecap="square"/>
<path d="M260.59 290.96 L260.59 321.86" fill="none" stroke="#1e1e1e" stroke-width="1.55" stroke-linejoin="miter" stroke-linecap="square"/>
<rect x="251.79" y="320.06" width="17.6" height="3.6" fill="#1e1e1e"/>
<path d="M288.29 277.14 L317 277.14" fill="none" stroke="#1e1e1e" stroke-width="1.55" stroke-linejoin="miter" stroke-linecap="square"/>
<path d="M58.09 375 L62.59 379.5 L58.09 384" fill="none" stroke="#1e1e1e" stroke-width="1.45" stroke-linejoin="miter" stroke-linecap="square"/>
<path d="M62.49 375 L66.99 379.5 L62.49 384" fill="none" stroke="#1e1e1e" stroke-width="1.45" stroke-linejoin="miter" stroke-linecap="square"/>
<path d="M66.89 379.5 L232.17 379.5" fill="none" stroke="#1e1e1e" stroke-width="1.55" stroke-linejoin="miter" stroke-linecap="square"/>
<rect x="92.29" y="375.75" width="21" height="7.5" fill="#fff" stroke="#1e1e1e" stroke-width="1.9"/>
<path d="M146.64 379.5 L146.64 437.57" fill="none" stroke="#1e1e1e" stroke-width="1.55" stroke-linejoin="miter" stroke-linecap="square"/>
<rect x="142.29" y="396.77" width="8.7" height="21" fill="#fff" stroke="#1e1e1e" stroke-width="1.8"/>
<rect x="138.14" y="435.77" width="17" height="3.6" fill="#1e1e1e"/>
<path d="M174.84 379.5 L174.84 398.54" fill="none" stroke="#1e1e1e" stroke-width="1.55" stroke-linejoin="miter" stroke-linecap="square"/>
<rect x="168.04" y="397.54" width="13.6" height="2" fill="#1e1e1e"/>
<rect x="168.04" y="404.04" width="13.6" height="2" fill="#1e1e1e"/>
<path d="M174.84 405.04 L174.84 420.14 L202.2 420.14" fill="none" stroke="#1e1e1e" stroke-width="1.55" stroke-linejoin="miter" stroke-linecap="square"/>
<path d="M202.2 407.43 L232.17 407.43" fill="none" stroke="#1e1e1e" stroke-width="1.55" stroke-linejoin="miter" stroke-linecap="square"/>
<path d="M232.17 365.3 L290.17 392.95 L232.17 420.6 L232.17 365.3" fill="none" stroke="#1e1e1e" stroke-width="2.3" stroke-linejoin="miter" stroke-linecap="square"/>
<circle cx="260.47" cy="353.47" r="3.7" fill="#fff" stroke="#1e1e1e" stroke-width="1.2"/>
<path d="M260.47 357.17 L260.47 378.79" fill="none" stroke="#1e1e1e" stroke-width="1.55" stroke-linejoin="miter" stroke-linecap="square"/>
<path d="M260.47 407.1 L260.47 436.87" fill="none" stroke="#1e1e1e" stroke-width="1.55" stroke-linejoin="miter" stroke-linecap="square"/>
<rect x="251.67" y="435.07" width="17.6" height="3.6" fill="#1e1e1e"/>
<path d="M290.17 392.95 L317 392.95" fill="none" stroke="#1e1e1e" stroke-width="1.55" stroke-linejoin="miter" stroke-linecap="square"/>
<circle cx="317.42" cy="78.99" r="3.7" fill="#fff" stroke="#1e1e1e" stroke-width="1.2"/>
<path d="M317 82.69 L317 392.91" fill="none" stroke="#1e1e1e" stroke-width="1.55" stroke-linejoin="miter" stroke-linecap="square"/>
<rect x="312.65" y="109.39" width="8.7" height="21" fill="#fff" stroke="#1e1e1e" stroke-width="1.8"/>
<rect x="330.15" y="209.07" width="8.7" height="21.2" fill="#fff" stroke="#1e1e1e" stroke-width="1.8"/>
<text x="325.87" y="84.28" font-size="14.5" textLength="32.5" lengthAdjust="spacing" stroke="#1e1e1e" stroke-width="0.45">+ 5V</text>
<text x="326.45" y="117.68" font-size="14.5" textLength="27.2" lengthAdjust="spacing" stroke="#1e1e1e" stroke-width="0.45">R24</text>
<text x="327.5" y="132.7" font-size="14.5" textLength="24.4" lengthAdjust="spacing" stroke="#1e1e1e" stroke-width="0.45">10k</text>
<text x="341.17" y="218.84" font-size="14.5" textLength="28" lengthAdjust="spacing" stroke="#1e1e1e" stroke-width="0.45">R26</text>
<text x="347.03" y="232.59" font-size="14.5" textLength="17.5" lengthAdjust="spacing" stroke="#1e1e1e" stroke-width="0.45">1k</text>
<text x="79.61" y="139.29" font-size="14.5" textLength="47.8" lengthAdjust="spacing" stroke="#1e1e1e" stroke-width="0.45">R27  2k</text>
<text x="18.93" y="167.71" font-size="14.5" textLength="68.8" lengthAdjust="spacing" stroke="#1e1e1e" stroke-width="0.45">PROTECT</text>
<text x="32.19" y="182.84" font-size="14.5" textLength="43.3" lengthAdjust="spacing" stroke="#1e1e1e" stroke-width="0.45">– FLR</text>
<text x="111.26" y="176.2" font-size="14.5" textLength="26.3" lengthAdjust="spacing" stroke="#1e1e1e" stroke-width="0.45">R28</text>
<text x="112.12" y="190.61" font-size="14.5" textLength="23.8" lengthAdjust="spacing" stroke="#1e1e1e" stroke-width="0.45">10k</text>
<text x="166.66" y="206.94" font-size="14.5" textLength="26.5" lengthAdjust="spacing" stroke="#1e1e1e" stroke-width="0.45">C65</text>
<text x="158.32" y="222.06" font-size="14.5" textLength="42.3" lengthAdjust="spacing" stroke="#1e1e1e" stroke-width="0.45">200pF</text>
<text x="218.58" y="143.64" font-size="13.5" textLength="6.8" lengthAdjust="spacing" stroke="#1e1e1e" stroke-width="0.45">7</text>
<text x="216.9" y="172.63" font-size="13.5" textLength="8.2" lengthAdjust="spacing" stroke="#1e1e1e" stroke-width="0.45">6</text>
<text x="238.05" y="168.33" font-size="14.5" textLength="31.1" lengthAdjust="spacing" stroke="#1e1e1e" stroke-width="0.45">U6A</text>
<text x="263.06" y="146.07" font-size="13.5" textLength="7.8" lengthAdjust="spacing" stroke="#1e1e1e" stroke-width="0.45">3</text>
<text x="263.56" y="188.08" font-size="13.5" textLength="15" lengthAdjust="spacing" stroke="#1e1e1e" stroke-width="0.45">12</text>
<text x="203.88" y="216.5" font-size="14.5" textLength="46.8" lengthAdjust="spacing" stroke="#1e1e1e" stroke-width="0.45">LM339</text>
<text x="289.95" y="158.33" font-size="13.5" textLength="4.9" lengthAdjust="spacing" stroke="#1e1e1e" stroke-width="0.45">1</text>
<text x="241.59" y="112.46" font-size="14.5" textLength="38.6" lengthAdjust="spacing" stroke="#1e1e1e" stroke-width="0.45">+ 24V</text>
<text x="80.48" y="256.01" font-size="14.5" textLength="47.8" lengthAdjust="spacing" stroke="#1e1e1e" stroke-width="0.45">R31  2k</text>
<text x="20.79" y="285.74" font-size="14.5" textLength="68.2" lengthAdjust="spacing" stroke="#1e1e1e" stroke-width="0.45">PROTECT</text>
<text x="34.86" y="299.37" font-size="14.5" textLength="42" lengthAdjust="spacing" stroke="#1e1e1e" stroke-width="0.45">– SLR</text>
<text x="110.53" y="292.61" font-size="14.5" textLength="26.8" lengthAdjust="spacing" stroke="#1e1e1e" stroke-width="0.45">R33</text>
<text x="112" y="306.12" font-size="14.5" textLength="23.4" lengthAdjust="spacing" stroke="#1e1e1e" stroke-width="0.45">10k</text>
<text x="165.55" y="321.74" font-size="14.5" textLength="27.1" lengthAdjust="spacing" stroke="#1e1e1e" stroke-width="0.45">C68</text>
<text x="157.2" y="336.86" font-size="14.5" textLength="43.8" lengthAdjust="spacing" stroke="#1e1e1e" stroke-width="0.45">200pF</text>
<text x="219.44" y="261.26" font-size="13.5" textLength="8.8" lengthAdjust="spacing" stroke="#1e1e1e" stroke-width="0.45">5</text>
<text x="219.16" y="290.66" font-size="13.5" textLength="8.8" lengthAdjust="spacing" stroke="#1e1e1e" stroke-width="0.45">4</text>
<text x="238.23" y="283.24" font-size="14.5" textLength="29.8" lengthAdjust="spacing" stroke="#1e1e1e" stroke-width="0.45">U6B</text>
<text x="262.45" y="260.78" font-size="13.5" textLength="8.8" lengthAdjust="spacing" stroke="#1e1e1e" stroke-width="0.45">3</text>
<text x="264.53" y="304.6" font-size="13.5" textLength="16.8" lengthAdjust="spacing" stroke="#1e1e1e" stroke-width="0.45">12</text>
<text x="205.79" y="328.23" font-size="14.5" textLength="44.8" lengthAdjust="spacing" stroke="#1e1e1e" stroke-width="0.45">LM339</text>
<text x="293.82" y="274.38" font-size="13.5" textLength="9" lengthAdjust="spacing" stroke="#1e1e1e" stroke-width="0.45">2</text>
<text x="241.76" y="228.87" font-size="14.5" textLength="38.8" lengthAdjust="spacing" stroke="#1e1e1e" stroke-width="0.45">+ 24V</text>
<text x="249.07" y="340.75" font-size="14.5" textLength="38" lengthAdjust="spacing" stroke="#1e1e1e" stroke-width="0.45">+ 24V</text>
<text x="75.85" y="372.68" font-size="14.5" textLength="49.3" lengthAdjust="spacing" stroke="#1e1e1e" stroke-width="0.45">R36  2k</text>
<text x="25.79" y="399.29" font-size="14.5" textLength="67.1" lengthAdjust="spacing" stroke="#1e1e1e" stroke-width="0.45">PROTECT</text>
<text x="39.25" y="412.93" font-size="14.5" textLength="43.1" lengthAdjust="spacing" stroke="#1e1e1e" stroke-width="0.45">– CSW</text>
<text x="112.03" y="406.23" font-size="14.5" textLength="26.3" lengthAdjust="spacing" stroke="#1e1e1e" stroke-width="0.45">R37</text>
<text x="113.19" y="420.64" font-size="14.5" textLength="23.5" lengthAdjust="spacing" stroke="#1e1e1e" stroke-width="0.45">10k</text>
<text x="168.76" y="433.98" font-size="14.5" textLength="26.8" lengthAdjust="spacing" stroke="#1e1e1e" stroke-width="0.45">C70</text>
<text x="161.31" y="449.11" font-size="14.5" textLength="40.1" lengthAdjust="spacing" stroke="#1e1e1e" stroke-width="0.45">200pF</text>
<text x="220.93" y="375.68" font-size="13.5" textLength="9.9" lengthAdjust="spacing" stroke="#1e1e1e" stroke-width="0.45">9</text>
<text x="220.66" y="404.28" font-size="13.5" textLength="9.9" lengthAdjust="spacing" stroke="#1e1e1e" stroke-width="0.45">8</text>
<text x="240.1" y="399.87" font-size="14.5" textLength="29.8" lengthAdjust="spacing" stroke="#1e1e1e" stroke-width="0.45">U6C</text>
<text x="263.33" y="376.1" font-size="13.5" textLength="8.3" lengthAdjust="spacing" stroke="#1e1e1e" stroke-width="0.45">3</text>
<text x="265.91" y="419.83" font-size="13.5" textLength="15.8" lengthAdjust="spacing" stroke="#1e1e1e" stroke-width="0.45">12</text>
<text x="206.09" y="441.85" font-size="14.5" textLength="44.4" lengthAdjust="spacing" stroke="#1e1e1e" stroke-width="0.45">LM339</text>
<text x="291.82" y="388.37" font-size="13.5" textLength="14.2" lengthAdjust="spacing" stroke="#1e1e1e" stroke-width="0.45">14</text>
<path d="M234.94 148.63 L241.54 148.63" fill="none" stroke="#1e1e1e" stroke-width="1.2" stroke-linejoin="miter" stroke-linecap="square"/>
<path d="M238.24 145.33 L238.24 151.93" fill="none" stroke="#1e1e1e" stroke-width="1.2" stroke-linejoin="miter" stroke-linecap="square"/>
<path d="M235.33 262.85 L241.93 262.85" fill="none" stroke="#1e1e1e" stroke-width="1.2" stroke-linejoin="miter" stroke-linecap="square"/>
<path d="M238.63 259.55 L238.63 266.15" fill="none" stroke="#1e1e1e" stroke-width="1.2" stroke-linejoin="miter" stroke-linecap="square"/>
<path d="M235.71 378.66 L242.31 378.66" fill="none" stroke="#1e1e1e" stroke-width="1.2" stroke-linejoin="miter" stroke-linecap="square"/>
<path d="M239.01 375.36 L239.01 381.96" fill="none" stroke="#1e1e1e" stroke-width="1.2" stroke-linejoin="miter" stroke-linecap="square"/>
<path d="M234.77 175.83 L241.17 175.83" fill="none" stroke="#1e1e1e" stroke-width="1.2" stroke-linejoin="miter" stroke-linecap="square"/>
<path d="M236.64 292.46 L243.04 292.46" fill="none" stroke="#1e1e1e" stroke-width="1.2" stroke-linejoin="miter" stroke-linecap="square"/>
<path d="M237.12 407.68 L243.52 407.68" fill="none" stroke="#1e1e1e" stroke-width="1.2" stroke-linejoin="miter" stroke-linecap="square"/>
</g>
</svg>
</body></html>
